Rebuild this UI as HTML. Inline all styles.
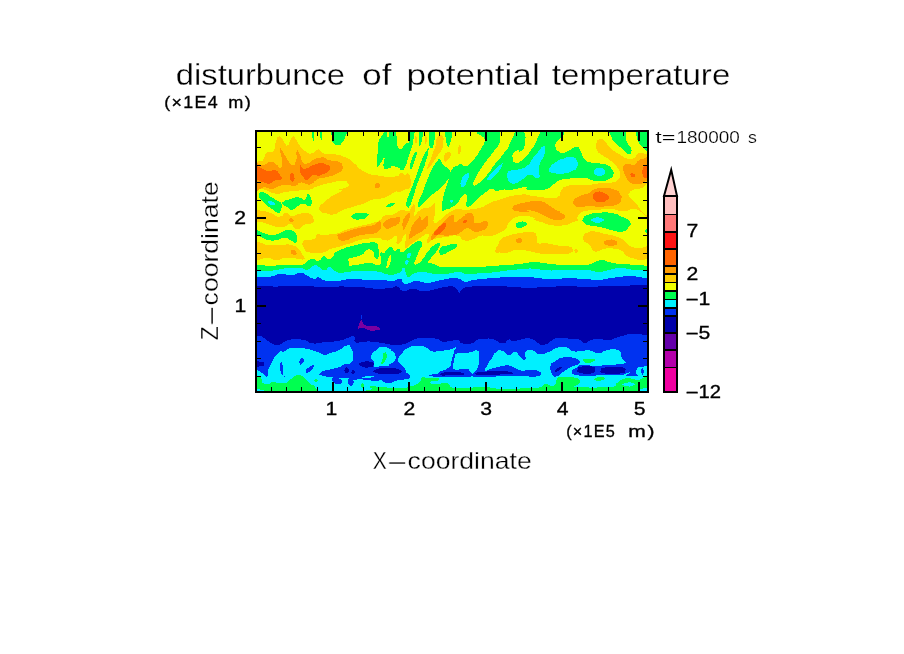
<!DOCTYPE html>
<html lang="en">
<head>
<meta charset="utf-8">
<title>disturbunce of potential temperature</title>
<style>
html,body{margin:0;padding:0;background:#fff;}
body{width:904px;height:654px;overflow:hidden;position:relative;}
svg{position:absolute;left:0;top:0;display:block;}
text{font-family:"Liberation Sans",sans-serif;fill:#000;}
.thin{stroke:#fff;stroke-width:0.3px;paint-order:fill stroke;}
.thin2{stroke:#fff;stroke-width:0.2px;paint-order:fill stroke;}
.bold{stroke:#000;stroke-width:0.32px;}
</style>
</head>
<body>
<svg width="904" height="654" viewBox="0 0 904 654">
<defs><clipPath id="pc"><rect x="256" y="131" width="392" height="261"/></clipPath></defs>
<rect x="0" y="0" width="904" height="654" fill="#fff"/>
<g clip-path="url(#pc)" shape-rendering="crispEdges">
<rect x="256" y="131" width="392" height="261" fill="#f0ff00"/>
<path fill="#ffcd00" d="M250 162C253.1 152.9 253.6 162.2 258 161.5C262.4 160.8 260.4 162.8 263.2 159.8C266 156.8 263.2 155.4 266.5 152.5C269.8 149.6 270.1 154.7 273.2 151.2C276.3 147.7 274 146.8 275.8 141.9C277.6 137 276.7 138.1 278.5 136.6C280.3 135.1 278.9 134.9 281.1 137.3C283.3 139.7 282.9 141.3 285.1 143.9C287.3 146.5 286 146.3 287.8 145.2C289.6 144.1 288.6 143.5 290.4 140.6C292.2 137.7 291.3 137.1 293.1 136.6C294.9 136.1 293.4 136.1 295.7 139.2C298 142.3 296.5 141.7 300 145.9C303.5 150.1 302 149.2 306.1 151.7C310.2 154.1 308.2 154 312.3 153.2C316.4 152.5 314.9 149.4 318.5 149.4C322.1 149.4 318.5 151.7 323.1 153.2C327.8 154.8 325.2 152.7 332.4 154C339.7 155.3 337.6 154 344.8 157.1C352.1 160.2 347.9 158.7 354.1 163.3C360.3 167.9 355.1 166.9 363.4 171C371.7 175.2 368.4 173.9 378.9 175.7C389.4 177.5 387.8 177.2 395 176.5C402.2 175.7 397.1 173.9 400.5 173.4C403.9 172.8 402.6 174.9 405.1 174.9C407.7 174.9 406.4 171.8 408.2 173.4C410 174.9 410 174.9 410.6 179.6C411.1 184.2 411.6 183.9 409.8 187.3C408 190.7 408.7 188.1 405.1 189.6C401.5 191.2 402.3 191.2 398.9 191.9C395.6 192.7 399.6 190.1 395 191.9C390.4 193.8 392.5 194.8 385.1 197.4C377.7 199.9 379.9 197.6 372.7 199.7C365.5 201.8 370.6 201 363.4 203.6C356.2 206.1 358.2 205.1 351 207.4C343.8 209.8 347.4 208.2 341.7 210.5C336 212.9 338.6 213.4 334 214.4C329.3 215.4 332.2 214.7 327.8 213.6C323.4 212.6 323.4 213.9 320.8 211.3C318.2 208.7 318.8 209 320 205.9C321.3 202.8 320.6 205.4 324.7 202C328.8 198.7 326.8 199.4 332.4 195.8C338.1 192.2 339.7 193.2 341.7 191.2C343.8 189.1 337.1 190.9 338.6 189.6C340.2 188.3 343.3 189.4 346.4 187.3C349.5 185.2 349.5 185.5 347.9 183.4C346.4 181.4 348.4 181.1 341.7 181.1C335 181.1 336 181.6 327.8 183.4C319.5 185.2 323.1 184.5 316.9 186.5C310.8 188.6 314.9 188.3 309.2 189.6C303.5 190.9 307.7 189.6 299.9 190.4C292.2 191.2 294.2 190.9 286 191.9C277.7 193 282.4 194.3 275.1 193.5C267.9 192.7 271 191.2 264.3 189.6C257.6 188.1 260.2 189.1 255 188.8C249.8 188.6 250.5 197.8 248.8 188.8C247.1 179.9 246.9 171.1 250 162Z"/>
<path fill="#ffcd00" d="M255 212.1C258.1 208.7 258.6 210.8 264.3 211.3C270 211.8 266.9 211.8 272 213.7C277.2 215.5 275.1 217 279.8 216.7C284.4 216.5 281.8 213.1 286 212.9C290.1 212.6 287.5 215.7 292.2 216C296.8 216.2 294.2 214.4 299.9 213.7C305.6 212.9 304.8 212.1 309.2 213.7C313.6 215.2 312 215.2 313.1 218.3C314.1 221.4 315.1 220.9 312.3 222.9C309.5 225 309.7 222.4 304.6 224.5C299.4 226.6 301.5 229.4 296.8 229.1C292.2 228.9 294.7 224.5 290.6 223.7C286.5 222.9 289.1 225.8 284.4 226.8C279.8 227.8 281.8 227.6 276.7 226.8C271.5 226 274.1 226 268.9 224.5C263.8 222.9 265.8 223.2 261.2 222.2C256.5 221.1 257.1 224.7 255 221.4C252.9 218 251.9 215.5 255 212.1Z"/>
<path fill="#ffcd00" d="M255 243.8C260.2 239.5 261.2 245.1 270.5 245.4C279.8 245.7 275.6 244.6 282.9 244.6C290.1 244.6 287 243.8 292.2 245.4C297.3 246.9 294.7 245.9 298.4 249.3C302 252.6 301.2 252.1 303 255.5C304.8 258.8 305.8 258.3 303.8 259.3C301.7 260.4 302.8 259.1 296.8 258.6C290.9 258 292.7 257.3 286 257.8C279.3 258.3 282.9 260.1 276.7 260.1C270.5 260.1 274.6 258.3 267.4 257.8C260.2 257.3 259.1 263.2 255 258.6C250.9 253.9 249.8 248.2 255 243.8Z"/>
<path fill="#ffcd00" d="M303 241.5C304.6 238.4 305.1 241 309.2 240C313.3 238.9 312.8 240.2 315.4 238.4C318 236.6 313.8 235.6 316.9 234.6C320 233.5 319.5 235.6 324.7 235.3C329.9 235.1 327.8 234.6 332.4 233.8C337.1 233 333.5 234.6 338.6 233C343.8 231.5 340.7 231.5 347.9 229.1C355.1 226.8 352.1 228.1 360.3 226C368.6 224 366 225 372.7 222.9C379.4 220.9 376.8 222.2 380.4 219.8C384.1 217.5 380.4 217.5 383.5 216C386.6 214.4 385.9 216 389.7 215.2C393.6 214.4 391.8 215.1 395 213.7C398.2 212.2 396.6 212.2 399.3 210.9C401.9 209.6 400.2 209.6 403 209.8C405.9 210 405.1 211.9 407.8 211.4C410.5 210.9 409.1 210.5 411 208.2C413 205.9 412.5 204.1 413.7 204.4C415 204.8 414.6 205.5 414.8 209.3C415 213 413 215 414.2 215.7C415.5 216.4 415.7 213.7 418.5 211.4C421.4 209.1 419.6 210 422.8 208.7C426 207.5 424.9 208.9 428.2 207.7C431.4 206.4 430.3 206.4 432.4 205C434.6 203.6 433.7 201.2 434.6 203.4C435.5 205.5 435.3 205.2 435.1 211.4C434.9 217.6 432.4 219.3 434 222.1C435.6 225 435.8 222.5 439.9 220C444 217.5 442.1 217.6 446.3 214.6C450.6 211.6 448.8 212.8 452.8 210.9C456.7 208.9 454.2 208.9 458.1 208.7C462 208.5 460.6 210 464.5 210.3C468.5 210.7 467.6 210.2 470 209.8C472.4 209.4 468.1 209.8 471.7 209C475.4 208.2 474.8 209.5 481 207.5C487.2 205.4 484.1 205.4 490.3 202.8C496.5 200.2 493.4 201.8 499.6 199.7C505.8 197.6 502.7 198.2 508.9 196.6C515.1 195.1 512.8 195.8 518.2 195.1C523.6 194.3 521.9 194.3 525 194.3C528.1 194.3 523 194.3 527.4 195.1C531.8 195.8 530.5 195.6 538.2 196.6C546 197.6 543.9 198.2 550.6 198.2C557.3 198.2 554.7 199.2 558.4 196.6C562 194 558.9 193.8 561.5 190.4C564 187.1 560.9 188.4 566.1 186.5C571.3 184.7 569.7 185.5 576.9 185C584.2 184.5 580.6 185.5 587.8 185C595 184.5 590.9 184.2 598.6 183.4C606.4 182.7 604.6 183.9 611 182.7C617.5 181.4 614.9 182.1 618 179.6C621.1 177 620.6 179 620.3 174.9C620.1 170.8 620.3 171.8 617.2 167.2C614.1 162.5 616.2 165.1 611 161C605.9 156.8 606.4 158.4 601.7 154.8C597.1 151.2 598.9 153.7 597.1 150.1C595.3 146.5 595.5 147.6 596.3 143.9C597.1 140.3 596.8 140.3 599.4 139.3C602 138.3 600.2 137.7 604 140.8C607.9 143.9 605.6 143.9 611 148.6C616.4 153.2 614.6 151.4 620.3 154.8C626 158.1 623.4 157.6 628.1 158.7C632.7 159.7 630.6 159.7 634.2 157.9C637.9 156.1 634.8 154.5 638.9 153.2C643 151.9 642.5 153.5 646.6 154C650.8 154.5 649.7 133.9 651.3 154.8C652.8 175.7 652.8 196.1 651.3 216.7C649.7 237.4 650.8 218.8 646.6 216.7C642.5 214.7 643.5 213.1 638.9 210.5C634.2 207.9 637.9 208.7 632.7 209C627.5 209.2 630.6 211.3 623.4 211.3C616.2 211.3 619.3 209.5 611 209C602.8 208.5 606.4 209.2 598.6 209.8C590.9 210.3 594 209.2 587.8 210.5C581.6 211.8 584.2 210.5 580 213.6C575.9 216.7 579.5 216.7 575.4 219.8C571.3 222.9 573.3 221.4 567.7 222.9C562 224.5 564.6 224.5 558.4 224.5C552.2 224.5 555.8 224.5 549.1 222.9C542.4 221.4 544.4 221.9 538.2 219.8C532 217.8 535.6 218 530.5 216.7C525.3 215.4 527.9 215.7 522.7 216C517.6 216.2 518.6 216.4 515 217.5C511.4 218.6 514.5 216.9 512 219.3C509.5 221.8 509.8 221.5 507.6 224.9C505.4 228.2 507.9 226.7 505.4 229.3C502.8 231.9 503.9 230.6 499.8 232.6C495.8 234.6 497.6 234.3 493.2 235.4C488.8 236.5 491 235.7 486.5 235.9C482.1 236.1 484.3 234.8 479.9 235.9C475.5 237 478.4 237.8 473.3 239.2C468.1 240.7 468.8 241.5 464.4 240.4C460 239.2 461.7 237.4 460 235.9C458.3 234.5 461.6 236.2 459.2 236C456.8 235.9 457.1 235.1 452.8 235.5C448.5 235.8 450.3 236.4 446.3 237.1C442.4 237.8 444.6 237.1 441 237.6C437.4 238.2 438.9 237.8 435.6 238.7C432.4 239.6 433.9 238.7 431.4 240.3C428.9 241.9 429.6 243.5 428.2 243.5C426.7 243.5 426.9 242.8 427.1 240.3C427.3 237.8 428.7 238.2 428.7 236C428.7 233.9 429 233.9 427.1 233.9C425.1 233.9 425.7 234.2 422.8 236C420 237.8 421.7 237.1 418.5 239.2C415.3 241.4 416.4 240.3 413.2 242.4C410 244.6 411.4 243.7 408.9 245.6C406.4 247.6 406.9 249 405.7 248.3C404.4 247.6 405 247.3 405.1 243.5C405.3 239.8 406 240.3 406.2 237.1C406.4 233.9 406.8 233.9 405.7 233.9C404.6 233.9 404.8 234.2 403 237.1C401.2 239.9 402.5 240.3 400.3 242.4C398.2 244.6 397.7 244.9 396.6 243.5C395.5 242.1 397.7 240.7 397.1 238.2C396.6 235.7 397.1 235.7 395 236C392.8 236.4 393.9 237.8 390.7 239.2C387.5 240.7 388.9 240.7 385.4 240.3C381.8 239.9 382.2 239 380 238.2C377.8 237.3 382.4 237.6 378.9 237.7C375.4 237.7 375.8 237.7 369.6 238.4C363.4 239.2 366.5 238.4 360.3 240C354.1 241.5 356.7 241.3 351 243.1C345.3 244.9 348.4 243.8 343.3 245.4C338.1 246.9 340.2 246.4 335.5 247.7C330.9 249 332.4 248 329.3 249.3C326.2 250.6 330.4 250.3 326.2 251.6C322.1 252.9 322.6 252.9 316.9 253.1C311.3 253.4 313.3 253.7 309.2 252.4C305.1 251.1 306.6 252.9 304.6 249.3C302.5 245.7 301.5 244.6 303 241.5Z"/>
<path fill="#ffcd00" d="M495.4 251.4C495 248.5 496.9 247.7 498.7 243.7C500.6 239.6 498 241.8 500.9 239.2C503.9 236.7 502.9 237.7 507.6 235.9C512.2 234.2 509.4 235.1 515 233.9C520.6 232.8 518.1 232.9 524.3 232.4C530.5 231.9 529.5 230.8 533.6 232.4C537.7 233.9 535.1 233.4 536.7 237C538.2 240.6 535.1 241.2 538.2 243.2C541.3 245.3 539.3 242.5 546 243.2C552.7 244 551.1 244.5 558.4 245.6C565.6 246.6 563 245.3 567.7 246.3C572.3 247.4 571.3 246.6 572.3 248.7C573.3 250.7 574.4 250.7 570.8 252.5C567.1 254.3 569.7 253.6 561.5 254.1C553.2 254.6 554.7 254.6 546 254.1C537.2 253.6 542.4 253.8 535.1 252.5C527.9 251.2 531 251 524.3 250.2C517.6 249.4 520.6 249.4 515 250.2C509.4 251 512.6 251.7 507.6 252.5C502.5 253.3 503.9 252.9 499.8 252.5C495.8 252.2 495.8 254.4 495.4 251.4Z"/>
<path fill="#ffcd00" d="M574.6 249.4C575.1 248.3 575.9 248.2 576.9 249.1C578 250 578.2 251.1 577.7 252.2C577.2 253.3 576.4 253.5 575.4 252.5C574.4 251.6 574.1 250.6 574.6 249.4Z"/>
<path fill="#ffcd00" d="M538.2 218.5C548 216.9 563 216.9 573.8 218.5C584.7 220 574.4 220.8 570.8 223.1C567.1 225.4 568.7 224.6 563 225.4C557.3 226.2 559.9 226.2 553.7 225.4C547.5 224.6 549.6 225.4 544.4 223.1C539.3 220.8 528.4 220 538.2 218.5Z"/>
<path fill="#ffcd00" d="M583.1 237C584.2 233.9 583.7 234.2 587.8 232.4C591.9 230.6 589.9 231.1 595.5 231.6C601.2 232.1 598.1 232.4 604.8 233.9C611.5 235.5 609.5 234.2 615.7 236.3C621.9 238.3 618.8 237 623.4 240.1C628.1 243.2 624.4 243 629.6 245.6C634.8 248.1 633.2 247.6 638.9 247.9C644.6 248.1 642.5 246.8 646.6 246.3C650.8 245.8 649.7 242.2 651.3 246.3C652.8 250.5 652.8 254.6 651.3 258.7C649.7 262.8 649.7 258.2 646.6 258.7C643.5 259.2 646.1 260.3 642 260.3C637.9 260.3 639.4 260.3 634.2 258.7C629.1 257.2 630.6 258.2 626.5 255.6C622.4 253 626 253.3 621.9 251C617.7 248.7 619.8 249.4 614.1 248.7C608.4 247.9 610 247.9 604.8 248.7C599.7 249.4 602.2 250.2 598.6 251C595 251.7 597.1 253 594 251C590.9 248.9 592.4 247.9 589.3 244.8C586.2 241.7 586.8 244.3 584.7 241.7C582.6 239.1 582.1 240.1 583.1 237Z"/>
<path fill="#ffcd00" d="M437.6 136.6C439.8 133.9 440.7 133.9 442.6 136.1C444.4 138.3 443.5 138.7 443.1 143.3C442.8 147.9 443.5 145.5 441.5 149.9C439.4 154.3 440 152.1 437 156.5C434.1 161 435.6 159.1 432.6 163.2C429.7 167.2 429.8 167.6 428.2 168.7C426.5 169.8 426.9 169.5 427.6 166.5C428.4 163.6 428.6 164.7 430.4 159.9C432.2 155.1 431.3 157.3 433.2 152.1C435 147 434.5 149.5 435.9 144.4C437.4 139.2 435.4 139.4 437.6 136.6Z"/>
<path fill="#ffcd00" d="M444.6 154.8C445.9 151.9 446.4 152.5 448.5 152.5C450.6 152.5 451.1 152.2 450.8 154.8C450.6 157.4 449.8 158.1 447.7 160.2C445.7 162.3 445.7 162.8 444.6 161C443.6 159.2 443.3 157.6 444.6 154.8Z"/>
<path fill="#ffcd00" d="M458.6 146.3C459.5 144.5 460.4 144.7 460.9 147C461.4 149.4 461 151.4 460.1 153.2C459.2 155 458.6 154.8 458.1 152.5C457.6 150.1 457.6 148.1 458.6 146.3Z"/>
<path fill="#ffcd00" d="M415.2 137C415.7 135.4 416.3 135.9 416.7 137.7C417.2 139.6 417.1 140.8 416.6 142.4C416.1 143.9 415.8 144.2 415.4 142.4C414.9 140.6 414.7 138.5 415.2 137Z"/>
<path fill="#ffcd00" d="M425.3 136.2C425.7 134.4 426.1 134.6 426.5 137C426.9 139.3 426.8 141.4 426.3 143.2C425.9 145 425.5 144.7 425.1 142.4C424.7 140.1 424.8 138 425.3 136.2Z"/>
<path fill="#f0ff00" d="M628.8 193.5C630.4 191.2 630.4 191.3 634.2 189.6C638.1 187.9 634.8 189.3 640.4 188.4C646.1 187.5 647.7 177.7 651.3 186.9C654.9 196 652.8 206.5 651.3 216C649.7 225.4 649.7 216.7 646.6 215.2C643.5 213.7 645.1 214.7 642 211.3C638.9 208 640.4 209 637.3 205.1C634.2 201.3 635.3 202.6 632.7 199.7C630.1 196.9 630.9 198.7 629.6 196.6C628.3 194.6 627.3 195.8 628.8 193.5Z"/>
<path fill="#ff9b00" d="M255 162.5C255.8 154.5 254.2 162.5 257.3 163.3C260.4 164.1 259.9 165.4 264.3 164.8C268.7 164.3 266.4 161.7 270.5 161.7C274.6 161.7 273.3 162.8 276.7 164.8C280 166.9 278.7 169.2 280.6 167.9C282.4 166.7 282.4 167.4 282.1 161C281.8 154.5 279.3 151.2 279.8 148.6C280.3 146 280.8 149.1 283.7 153.2C286.5 157.4 285.5 157.1 288.3 161C291.1 164.8 289.6 164.8 292.2 164.8C294.7 164.8 294.5 165.6 296 161C297.6 156.3 295.5 153 296.8 150.9C298.1 148.8 297.8 150.9 299.9 154.8C302 158.7 300.4 159.7 303 162.5C305.6 165.4 304 164.3 307.7 163.3C311.3 162.3 309.7 161.2 313.8 159.4C318 157.6 316.9 158.7 320 157.9C323.1 157.1 320 156.3 323.1 157.1C326.2 157.9 324.2 158.7 329.3 160.2C334.5 161.7 334.2 159.9 338.6 161.7C343 163.6 341.5 162.8 342.5 165.6C343.5 168.5 344 167.4 341.7 170.3C339.4 173.1 339.7 172.1 335.5 174.1C331.4 176.2 333.5 175.2 329.3 176.5C325.2 177.8 327.3 177 323.1 178C319 179 321.1 177.5 316.9 179.6C312.8 181.6 314.9 182.9 310.8 184.2C306.6 185.5 308.2 183.9 304.6 183.4C300.9 182.9 303 181.9 299.9 182.7C296.8 183.4 299.9 185 295.3 185.8C290.6 186.5 291.7 184.7 286 185C280.3 185.2 282.9 185.2 278.2 186.5C273.6 187.8 276.7 188.6 272 188.8C267.4 189.1 270 187.8 264.3 187.3C258.6 186.8 258.1 195.6 255 187.3C251.9 179 254.2 170.5 255 162.5Z"/>
<path fill="#ff9b00" d="M379.8 185.8C379.8 186.8 379.9 186.5 379.4 187.3C378.8 188.1 379 187.9 378.1 188.2C377.2 188.5 377.5 188.5 376.6 188.2C375.6 187.9 375.9 188.1 375.3 187.3C374.7 186.5 374.8 186.8 374.8 185.8C374.8 184.7 374.7 185 375.3 184.2C375.9 183.4 375.6 183.6 376.6 183.3C377.5 183 377.2 183 378.1 183.3C379 183.6 378.8 183.4 379.4 184.2C379.9 185 379.8 184.7 379.8 185.8Z"/>
<path fill="#ff9b00" d="M293.2 221.8C292.8 222.4 293 222.3 292.2 222.3C291.4 222.4 291.7 222.5 290.9 222.1C290 221.7 290.3 221.9 289.7 221.1C289.2 220.4 289.3 220.6 289.2 219.9C289.2 219.1 289.1 219.3 289.6 218.7C290 218.2 289.8 218.3 290.6 218.2C291.4 218.1 291.1 218.1 291.9 218.5C292.8 218.9 292.5 218.7 293.1 219.5C293.6 220.2 293.5 219.9 293.6 220.7C293.6 221.5 293.7 221.3 293.2 221.8Z"/>
<path fill="#ff9b00" d="M296.3 254C295.9 254.8 296.1 254.6 295.2 254.9C294.2 255.1 294.6 255.1 293.5 254.8C292.4 254.5 292.7 254.7 291.9 253.9C291 253.1 291.2 253.4 291 252.4C290.7 251.5 290.7 251.8 291.1 251C291.5 250.3 291.3 250.4 292.3 250.2C293.2 249.9 292.9 249.9 294 250.2C295.1 250.6 294.7 250.4 295.6 251.2C296.4 252 296.2 251.7 296.5 252.6C296.7 253.6 296.7 253.3 296.3 254Z"/>
<path fill="#ff9b00" d="M337.9 234.7C340.2 233.2 339.4 234.2 344.8 232.4C350.2 230.6 347.9 231.1 354.1 229.3C360.3 227.5 357.2 228.3 363.4 227C369.6 225.7 367.5 227.2 372.7 225.4C377.9 223.6 376.1 221.8 378.9 221.5C381.7 221.3 381.2 221.5 381.2 224.6C381.2 227.7 381.7 227.7 378.9 230.8C376.1 233.9 377.9 232.6 372.7 233.9C367.5 235.2 369.6 233.7 363.4 234.7C357.2 235.7 359.8 235.2 354.1 237C348.4 238.8 351 239.1 346.4 240.1C341.7 241.2 343 241.2 340.2 240.1C337.3 239.1 338.6 238.8 337.9 237C337.1 235.2 335.5 236.3 337.9 234.7Z"/>
<path fill="#ff9b00" d="M383.2 223.7C383.7 221.3 383.9 222.3 386.4 220.5C388.9 218.7 387.8 219.3 390.7 218.4C393.6 217.5 392.1 218.2 395 217.8C397.8 217.5 397.7 216.2 399.3 217.3C400.9 218.4 400.5 218.5 399.8 221C399.1 223.5 399.4 223 397.1 224.8C394.8 226.6 395.7 225.1 392.8 226.4C390 227.6 391.2 228.1 388.6 228.5C385.9 229 386.6 229.3 384.8 227.7C383 226.1 382.7 226.1 383.2 223.7Z"/>
<path fill="#ff9b00" d="M402.5 226.4C402.3 223.5 401.9 224.4 403 221C404.1 217.6 403.7 218.9 405.7 216.2C407.6 213.5 407.5 213.2 408.9 213C410.3 212.8 410.1 213 410 215.7C409.8 218.4 409.8 217.5 408.4 221C406.9 224.6 407.3 223.5 405.7 226.4C404.1 229.2 404.6 229.6 403.5 229.6C402.5 229.6 402.7 229.2 402.5 226.4Z"/>
<path fill="#ff9b00" d="M408.9 237.1C409.3 234.2 409.1 234.9 410.5 230.7C411.9 226.4 410.9 228.2 413.2 224.2C415.5 220.3 415.1 221.6 417.5 218.9C419.8 216.2 418.9 215.9 420.1 216.2C421.4 216.6 419.6 219.4 421.2 220C422.8 220.5 422.8 219.1 424.9 217.8C427.1 216.6 426.6 214.8 427.6 216.2C428.7 217.6 428.3 218.7 428.2 222.1C428 225.5 428.9 223.5 427.1 226.4C425.3 229.2 426 228.2 422.8 230.7C419.6 233.2 421 231.7 417.5 233.9C413.9 236 414.8 235.3 412.1 237.1C409.4 238.9 410.5 239.2 409.4 239.2C408.4 239.2 408.5 239.9 408.9 237.1Z"/>
<path fill="#ff9b00" d="M431.4 237.1C431.7 234.8 431.4 236 433.5 232.8C435.6 229.6 434.6 231 437.8 227.5C441 223.9 439.6 225.5 443.1 222.1C446.7 218.7 445.3 219.8 448.5 217.3C451.7 214.8 451 214.4 452.8 214.6C454.6 214.8 453.1 215.3 453.8 217.8C454.6 220.3 453.1 221.6 454.9 222.1C456.7 222.6 456 221.6 459.2 219.4C462.4 217.3 462.4 217.4 464.5 215.7C466.7 214 463.4 215.2 465.5 214.4C467.7 213.5 468.3 212.3 471.1 213.3C473.8 214.2 472.7 214 473.8 217.1C474.9 220.3 472.4 220.8 474.4 222.7C476.4 224.5 475.9 223.2 479.9 222.7C484 222.1 484.2 219.5 486.5 221C488.9 222.5 488.6 223.9 487.1 227.1C485.6 230.2 486.4 228.9 482.1 230.4C477.9 231.9 478.8 232.2 474.4 231.5C470 230.8 471.8 229.2 468.8 228.2C465.9 227.2 468.1 227.3 465.6 228.5C463.1 229.7 464.2 229.8 461.3 231.7C458.5 233.7 460.6 233.3 457.1 234.4C453.5 235.5 454.2 234.4 450.6 234.9C447.1 235.5 449.9 236 446.3 236C442.8 236 443.5 234.6 439.9 234.9C436.4 235.3 438.1 235.5 435.6 237.1C433.2 238.7 433.9 239.8 432.4 239.8C431 239.8 431 239.4 431.4 237.1Z"/>
<path fill="#ff9b00" d="M513.1 207.2C514.2 205.1 513.1 206.1 517.5 204.4C521.9 202.7 520.5 203.3 526.4 202.2C532.3 201.1 530.1 201.3 535.2 201.1C540.4 200.9 537.4 200.3 541.9 201.6C546.3 202.9 544.1 202.4 548.5 205C552.9 207.5 551.3 207.2 555.1 209.4C559 211.6 558.4 210.4 560 211.6C561.6 212.8 558.4 211.7 559.9 212.9C561.4 214 563.5 213.1 564.6 215.2C565.6 217.2 566.1 217.5 563 219C559.9 220.6 560.9 220.6 555.3 219.8C549.6 219 552.2 219.3 546 216.7C539.8 214.1 542.9 214.1 536.7 212.1C530.5 210 530.1 210.5 527.4 210.5C524.7 210.6 531.1 211.8 528.6 212.1C526 212.5 524.5 212.1 519.7 211.6C514.9 211 516.4 212 514.2 210.5C512 209 512 209.2 513.1 207.2Z"/>
<path fill="#ff9b00" d="M573.8 200.5C575.7 197.4 575.4 198.1 580 195.8C584.7 193.5 583.1 195.6 587.8 193.5C592.4 191.4 588.8 191.4 594 189.6C599.1 187.8 596.6 188.1 603.3 188.1C610 188.1 608.4 187.6 614.1 189.6C619.8 191.7 618 190.9 620.3 194.3C622.6 197.6 622.1 196.3 621.1 199.7C620.1 203 621.6 202.3 617.2 204.3C612.8 206.4 614.1 205.1 607.9 205.9C601.7 206.7 604.8 206.7 598.6 206.7C592.4 206.7 595.5 205.6 589.3 205.9C583.1 206.1 584.9 207.7 580 207.4C575.1 207.2 576.7 207.4 574.6 205.1C572.6 202.8 572 203.6 573.8 200.5Z"/>
<path fill="#ff9b00" d="M623.4 166.4C625 164.3 624.4 164.6 628.1 164.1C631.7 163.6 630.6 166.1 634.2 164.8C637.9 163.6 635.8 162.3 638.9 160.2C642 158.1 639.4 159.2 643.5 158.7C647.7 158.1 648.7 150.9 651.3 158.7C653.9 166.4 652.8 174.4 651.3 181.9C649.7 189.4 649.7 180.6 646.6 181.1C643.5 181.6 645.6 182.4 642 183.4C638.4 184.5 639.9 184.7 635.8 184.2C631.7 183.7 633 184.5 629.6 181.9C626.2 179.3 627.8 180.3 625.7 176.5C623.7 172.6 624.2 173.6 623.4 170.3C622.6 166.9 621.9 168.5 623.4 166.4Z"/>
<path fill="#ff9b00" d="M521.6 239.1C521.9 239.9 521.9 239.6 521.6 240.5C521.3 241.4 521.5 241.1 520.6 241.9C519.7 242.6 520 242.4 518.9 242.6C517.8 242.9 518.1 242.9 517.2 242.6C516.3 242.2 516.5 242.4 516.1 241.6C515.8 240.8 515.8 241.1 516.1 240.2C516.4 239.3 516.2 239.6 517.1 238.8C518 238.1 517.7 238.3 518.8 238.1C519.9 237.8 519.6 237.8 520.5 238.2C521.4 238.5 521.2 238.3 521.6 239.1Z"/>
<path fill="#ff9b00" d="M604 242.5C604 240.6 604.6 240.9 607.9 240.1C611.3 239.4 611 239.1 614.1 240.1C617.2 241.2 617.2 241.4 617.2 243.2C617.2 245 617.2 244.8 614.1 245.6C611 246.3 611.3 246.6 607.9 245.6C604.6 244.5 604 244.3 604 242.5Z"/>
<path fill="#ff9b00" d="M522.1 239.5C522.4 240.4 522.4 240.1 522 241C521.7 241.9 521.9 241.7 521 242.3C520.1 242.9 520.5 242.8 519.4 242.9C518.3 243 518.6 243 517.8 242.5C516.9 242 517.1 242.3 516.8 241.4C516.5 240.5 516.5 240.8 516.8 239.9C517.2 239 516.9 239.2 517.8 238.6C518.7 238 518.4 238.1 519.5 238C520.5 237.9 520.2 237.8 521.1 238.3C521.9 238.8 521.7 238.6 522.1 239.5Z"/>
<path fill="#ff6400" d="M255 166.4C255.8 162 254.7 165.6 257.3 166.4C259.9 167.2 258.9 167.2 262.7 168.7C266.6 170.3 264.8 170.5 268.9 171C273.1 171.6 271.5 169 275.1 170.3C278.7 171.6 277.7 171.8 279.8 174.9C281.8 178 282.9 177.8 281.3 179.6C279.8 181.4 278.7 179 275.1 180.3C271.5 181.6 274.1 182.7 270.5 183.4C266.9 184.2 268.7 183.9 264.3 182.7C259.9 181.4 260.4 180.6 257.3 179.6C254.2 178.5 255.8 183.9 255 179.6C254.2 175.2 254.2 170.8 255 166.4Z"/>
<path fill="#ff6400" d="M294.4 176.9C294.7 178.6 294.7 178.1 294.4 179.5C294 181 294.2 180.6 293.5 181.3C292.7 181.9 293 181.9 292 181.5C291.1 181.1 291.4 181.4 290.7 180.1C290 178.7 290.1 179.3 289.9 177.6C289.7 175.8 289.6 176.4 290 174.9C290.3 173.5 290.1 173.8 290.9 173.2C291.7 172.5 291.4 172.6 292.3 173C293.2 173.4 292.9 173.1 293.7 174.4C294.4 175.7 294.2 175.2 294.4 176.9Z"/>
<path fill="#ff6400" d="M300.7 164.8C301.7 164.1 300.7 167.7 303 168.7C305.3 169.7 304 169.2 307.7 167.9C311.3 166.7 309.2 166.4 313.8 164.8C318.5 163.3 317.5 163.3 321.6 163.3C325.7 163.3 323.4 163.6 326.2 164.8C329.1 166.1 329.6 164.8 330.1 167.2C330.6 169.5 330.1 169.5 327.8 171.8C325.5 174.1 326.2 172.8 323.1 174.1C320 175.4 321.6 175.4 318.5 175.7C315.4 175.9 316.9 174.1 313.8 174.9C310.8 175.7 311.5 176.2 309.2 178C306.9 179.8 308.9 180.8 306.9 180.3C304.8 179.8 305.3 179.6 303 176.5C300.7 173.4 300.7 174.9 299.9 171C299.1 167.2 299.7 165.6 300.7 164.8Z"/>
<path fill="#ff6400" d="M434 233.9C434.4 232.1 434.4 232.4 436.7 229.6C439 226.7 438.1 227.6 441 225.3C443.9 223 443.7 222.3 445.3 222.6C446.9 223 446.5 223.7 445.8 226.4C445.1 229.1 445.5 228.2 443.1 230.7C440.8 233.2 441.4 232.4 438.9 233.9C436.4 235.3 437.3 234.9 435.6 234.9C434 234.9 433.7 235.7 434 233.9Z"/>
<path fill="#ff6400" d="M462.9 221C463.7 220.1 464 220 465.6 220C467.2 220 467.8 220.1 467.8 221C467.8 221.9 467 222.1 465.6 222.6C464.2 223.2 464.4 223.2 463.5 222.6C462.6 222.1 462.2 221.9 462.9 221Z"/>
<path fill="#ff6400" d="M593.2 195C594 192.2 593.7 192.7 597.1 191.9C600.4 191.2 599.4 191.2 603.3 192.7C607.1 194.3 607.7 194 608.7 196.6C609.7 199.2 609.2 198.7 606.4 200.5C603.5 202.3 604 202 600.2 202C596.3 202 597.1 202.8 594.8 200.5C592.4 198.1 592.4 197.9 593.2 195Z"/>
<path fill="#ff6400" d="M642.8 168.7C643.8 165.1 643.8 166.9 646.6 165.6C649.5 164.3 649.7 160.5 651.3 164.8C652.8 169.2 652.8 174.4 651.3 178.8C649.7 183.2 649.2 178.8 646.6 178C644.1 177.2 644.8 179.6 643.5 176.5C642.2 173.4 641.7 172.3 642.8 168.7Z"/>
<path fill="#ff6400" d="M631.2 173.4C632.4 172.8 634 173.6 635 174.9C636.1 176.2 635.5 176.7 634.2 177.2C633 177.8 632.2 177.8 631.2 176.5C630.1 175.2 629.9 173.9 631.2 173.4Z"/>
<path fill="#00ff50" d="M259.6 192.7C261.5 191.7 260.7 191.4 264.3 192.7C267.9 194 266.4 194 270.5 196.6C274.6 199.2 273.1 198.1 276.7 200.5C280.3 202.8 280 200.2 281.3 203.6C282.6 206.9 281.6 207.4 280.6 210.5C279.5 213.6 281.1 213.4 278.2 212.9C275.4 212.3 276.2 211.8 272 209C267.9 206.1 269.5 207.4 265.8 204.3C262.2 201.2 263.5 202.5 261.2 199.7C258.9 196.9 259.4 198.1 258.9 195.8C258.4 193.5 257.8 193.8 259.6 192.7Z"/>
<path fill="#00ff50" d="M282.9 202C285.5 200.2 285.5 200.5 290.6 198.9C295.8 197.4 293.7 197.1 298.4 197.4C303 197.6 301.5 200.7 304.6 199.7C307.7 198.7 305.6 194.8 307.7 194.3C309.7 193.8 309.5 194.8 310.8 198.1C312 201.5 312.6 201.8 311.5 204.3C310.5 206.9 310.5 206.1 307.7 205.9C304.8 205.6 306.6 203.3 303 203.6C299.4 203.8 300.4 204.6 296.8 206.7C293.2 208.7 295.3 209.5 292.2 209.8C289.1 210 290.6 209.2 287.5 207.4C284.4 205.6 284.4 206.1 282.9 204.3C281.3 202.5 280.3 203.8 282.9 202Z"/>
<path fill="#00ff50" d="M312 130C312.4 127.2 313.2 126.9 313.8 130C314.5 133.1 314.4 136.5 314 139.3C313.6 142.1 313.3 141.6 312.6 138.5C311.9 135.4 311.6 132.8 312 130Z"/>
<path fill="#00ff50" d="M319.7 130C320.1 127.4 320.9 126.9 321.6 130C322.3 133.1 322.2 136.7 321.7 139.3C321.3 141.9 321 140.8 320.4 137.7C319.7 134.6 319.3 132.6 319.7 130Z"/>
<path fill="#00ff50" d="M333.2 130C337.6 126.9 341.7 127.4 345.6 130C349.5 132.6 346.1 133.4 344.8 137.7C343.5 142.1 343.8 140.6 341.7 143.2C339.7 145.7 341.2 145.5 338.6 145.5C336 145.5 336 145.2 334 143.2C331.9 141.1 332.7 143.7 332.4 139.3C332.2 134.9 328.8 133.1 333.2 130Z"/>
<path fill="#00ff50" d="M352.6 215.2C354.6 213.1 355.4 213.4 360.3 212.9C365.2 212.3 365 212.3 367.3 213.6C369.6 214.9 369.1 214.9 367.3 216.7C365.5 218.5 366.2 218.3 361.9 219C357.5 219.8 357.2 220.3 354.1 219C351 217.8 350.5 217.2 352.6 215.2Z"/>
<path fill="#00ff50" d="M387.4 205.1C389.2 203.7 391.5 202.8 393.6 202.8C395.7 202.8 395.4 203.7 393.6 205.1C391.8 206.5 390.3 207 388.2 207C386.1 207 385.6 206.5 387.4 205.1Z"/>
<path fill="#00ff50" d="M251.9 229.3C253.7 227.7 253.2 228.8 257.3 230.1C261.5 231.4 258.9 231.6 264.3 233.2C269.7 234.7 267.9 235 273.6 234.7C279.3 234.5 276.7 233.9 281.3 232.4C286 230.8 283.4 230.3 287.5 230.1C291.7 229.8 290.6 229.3 293.7 231.6C296.8 233.9 296 233.4 296.8 237C297.6 240.6 298.1 241.4 296 242.5C294 243.5 294.5 241.7 290.6 240.1C286.7 238.6 289.1 237.8 284.4 237.8C279.8 237.8 281.8 239.4 276.7 240.1C271.5 240.9 274.1 241.2 268.9 240.1C263.8 239.1 265.1 238.6 261.2 237C257.3 235.5 260.4 236.3 257.3 235.5C254.2 234.7 253.7 236.8 251.9 234.7C250.1 232.6 250.1 230.8 251.9 229.3Z"/>
<path fill="#00ff50" d="M378.9 140.8C380.7 136.2 381.2 137.2 383.5 133.1C385.9 129 382.5 130 385.9 128.5C389.2 126.9 389.9 125.9 393.5 128.5C397.1 131 395.3 130.5 396.6 136.2C397.9 141.9 395.8 141.4 397.4 145.5C398.9 149.6 398.7 149.1 401.3 148.6C403.8 148.1 402.3 146.8 405.1 143.9C408 141.1 408 145.2 409.8 140.1C411.6 134.9 409 132.3 410.6 128.5C412.1 124.6 413.7 123.8 414.4 128.5C415.2 133.1 413.9 135.7 412.9 142.4C411.8 149.1 412.9 143.4 411.3 148.6C409.8 153.7 410.3 151.7 408.2 157.9C406.2 164.1 407.2 163 405.1 167.2C403.1 171.3 404.6 170.3 402 170.3C399.5 170.3 401 168.5 397.4 167.2C393.8 165.9 393.2 166.4 391.2 166.4C389.2 166.4 392.8 166.4 391.3 167.2C389.8 167.9 389.2 169 386.6 168.7C384.1 168.5 384.3 170 383.5 166.4C382.8 162.8 385.3 158.9 384.3 157.9C383.3 156.8 382.8 160.5 380.4 163.3C378.1 166.1 378.4 168.2 377.3 166.4C376.3 164.6 377.1 164.3 377.3 157.9C377.6 151.4 377.6 152.7 378.1 147C378.6 141.4 377.1 145.5 378.9 140.8Z"/>
<path fill="#f0ff00" d="M386.6 128.5C387.1 125.4 388.9 125.4 389.4 128.5C389.9 131.5 389.1 137.7 388.2 137.7C387.3 137.7 386.2 131.5 386.6 128.5Z"/>
<path fill="#00ff50" d="M415.5 152.1C416.4 151.9 416.8 151.2 416.6 153.8C416.4 156.4 416.2 155.6 414.9 159.9C413.6 164.1 414 163.4 412.7 166.5C411.4 169.6 412 169.3 411 169.3C410.1 169.3 409.7 169.6 409.9 166.5C410.1 163.4 410.3 163.9 411.6 159.9C412.9 155.8 412.5 156.9 413.8 154.3C415.1 151.8 414.5 152.3 415.5 152.1Z"/>
<path fill="#00ff50" d="M426.8 150.1C429.1 146.8 429.1 145.7 428.4 150.9C427.6 156.1 427.8 155.6 424.5 165.6C421.1 175.7 421.9 171.3 418.3 181.1C414.7 190.9 416.5 186.8 413.7 195C410.8 203.3 412.1 202.3 409.8 205.9C407.5 209.5 407.7 207.4 406.7 205.9C405.6 204.3 405.1 206.9 406.7 201.2C408.2 195.6 408.2 197.1 411.3 188.8C414.4 180.6 412.6 185.8 416 176.5C419.3 167.2 417.8 169.7 421.4 161C425 152.2 424.5 153.5 426.8 150.1Z"/>
<path fill="#00ff50" d="M440 159.4C442 159.7 440.2 160.7 442.3 163.3C444.4 165.9 443.6 164.6 446.2 167.2C448.8 169.7 449 167.9 450 171C451.1 174.1 450.8 172.6 449.3 176.5C447.7 180.3 449.3 178 445.4 182.7C441.5 187.3 442.8 185.8 437.7 190.4C432.5 195 434.6 192.5 429.9 196.6C425.3 200.7 427.3 199.4 423.7 202.8C420.1 206.1 420.9 206.7 419.1 206.7C417.3 206.7 417.3 207.2 418.3 202.8C419.3 198.4 419.3 200.7 422.2 193.5C425 186.3 423.7 188.8 426.8 181.1C429.9 173.4 428.4 176.5 431.5 170.3C434.6 164.1 433.3 166.1 436.1 162.5C438.9 158.9 437.9 159.2 440 159.4Z"/>
<path fill="#00ff50" d="M419.8 128.5C421.1 123.5 422.4 123.8 422.9 128.5C423.5 133.1 422.7 137.5 421.4 142.4C420.1 147.3 419.6 147.8 419.1 143.2C418.6 138.5 418.6 133.4 419.8 128.5Z"/>
<path fill="#00ff50" d="M429.9 128.5C431.7 124.8 433.3 123.3 434.6 128.5C435.8 133.6 435.3 137.7 433.8 143.9C432.2 150.1 431.5 148.6 429.9 147C428.4 145.5 429.1 145.5 429.1 139.3C429.1 133.1 428.1 132.1 429.9 128.5Z"/>
<path fill="#00ff50" d="M446.2 128.5C447.7 123 450 124.3 451.6 128.5C453.1 132.6 452.4 135.4 450.8 140.8C449.3 146.3 448.5 148.8 446.9 144.7C445.4 140.6 444.6 133.9 446.2 128.5Z"/>
<path fill="#00ff50" d="M451.6 170.3C454.9 164.6 454.7 167.7 457.8 165.6C460.9 163.6 458.3 163.8 460.9 164.1C463.5 164.3 462.4 166.7 465.5 166.4C468.6 166.1 466.6 166.7 470.2 163.3C473.8 159.9 472.8 161.2 476.4 156.3C480 151.4 478.2 153.7 481 148.6C483.9 143.4 483.1 147.6 484.9 140.8C486.7 134.1 463.2 132.6 486.4 128.5C509.6 124.3 531.5 122.8 554.5 128.5C577.4 134.1 553.7 137.7 555.3 145.5C556.8 153.2 556 149.4 559.1 151.7C562.2 154 560.7 153.2 564.6 152.5C568.4 151.7 566.6 151.2 570.8 149.4C574.9 147.6 573.6 146.3 576.9 147C580.3 147.8 578.2 147.6 580.8 151.7C583.4 155.8 581.3 155.8 584.7 159.4C588 163 586.2 161.2 590.9 162.5C595.5 163.8 593.5 162.5 598.6 163.3C603.8 164.1 602 162.8 606.4 164.8C610.8 166.9 609.5 166.1 611.8 169.5C614.1 172.8 614.1 171.8 613.3 174.9C612.6 178 613.3 176.7 609.5 178.8C605.6 180.8 607.4 180.6 601.7 181.1C596 181.6 597.6 181.4 592.4 180.3C587.3 179.3 591.4 178.8 586.2 178C581.1 177.2 583.1 177.8 576.9 178C570.8 178.3 573.3 178 567.7 178.8C562 179.6 564.6 178.5 559.9 180.3C555.3 182.1 557.8 181.4 553.7 184.2C549.6 187 552.7 187 547.5 188.8C542.4 190.7 544.9 189.4 538.2 189.6C531.5 189.9 531.8 190.4 527.4 189.6C523 188.8 530.1 187.3 525 187.3C519.9 187.3 519.4 188.8 512 189.6C504.6 190.4 507.9 189.1 502.7 189.6C497.5 190.1 500.1 191.4 496.5 191.2C492.9 190.9 496 188.1 491.9 188.8C487.7 189.6 489.3 189.9 484.1 193.5C479 197.1 481 195.6 476.4 199.7C471.7 203.8 473.5 204.1 470.2 205.9C466.8 207.7 467.3 207.7 466.3 205.1C465.3 202.5 467.3 201.8 467.1 198.1C466.8 194.5 467.3 194.8 465.5 194.3C463.7 193.8 464.2 193.8 461.7 196.6C459.1 199.4 461.1 199.2 457.8 202.8C454.4 206.4 455.7 205.1 451.6 207.4C447.5 209.8 448.5 208.7 445.4 209.8C442.3 210.8 443.3 212.9 442.3 210.5C441.3 208.2 441.5 209 442.3 202.8C443.1 196.6 442.8 198.7 444.6 191.9C446.4 185.2 445.4 189.9 447.7 182.7C450 175.4 448.2 175.9 451.6 170.3Z"/>
<path fill="#f0ff00" d="M501.9 128.5C506.6 123.8 510.7 123.8 513.5 128.5C516.4 133.1 514.1 133.6 510.4 142.4C506.8 151.2 507.9 147.6 502.7 154.8C497.5 162 500.1 157.4 495 164.1C489.8 170.8 492.4 168.7 487.2 174.9C482.1 181.1 484.1 179.3 479.5 182.7C474.8 186 474.3 187 473.3 185C472.2 182.9 472.8 183.4 476.4 176.5C480 169.5 478.4 172.3 484.1 164.1C489.8 155.8 488.2 158.9 493.4 151.7C498.6 144.5 496.8 150.1 499.6 142.4C502.4 134.6 497.3 133.1 501.9 128.5Z"/>
<path fill="#f0ff00" d="M525.5 128.5C529.9 125.4 534.9 124.3 538.5 128.5C542.2 132.6 538.5 134.1 536.4 140.8C534.2 147.6 535 143.9 532 148.6C529 153.2 531 150.6 527.4 154.8C523.8 158.9 525.3 158.1 521.2 161C517.1 163.8 515.5 163 515 163.3C514.5 163.6 519.7 162 519.7 161.7C519.8 161.5 517.4 163.6 515.1 162.5C512.8 161.5 513.3 161.7 512.8 158.7C512.2 155.6 511.7 156.1 513.5 153.2C515.3 150.4 516.2 150.6 518.2 150.1C520.2 149.6 517.6 152.7 519.6 151.7C521.7 150.6 522.3 151.7 524.3 147C526.3 142.4 525.1 143.9 525.5 137.7C525.9 131.5 521.2 131.5 525.5 128.5Z"/>
<path fill="#00ff50" d="M610.2 128.5C614.1 125.4 618 124.3 623.4 128.5C628.8 132.6 624.2 134.6 626.5 140.8C628.8 147 628.8 143.4 630.4 147C631.9 150.6 631.9 149.4 631.2 151.7C630.4 154 631.2 155 628.1 154C625 153 626 152.2 621.9 148.6C617.7 145 619 146.8 615.7 143.2C612.3 139.6 613.6 142.6 611.8 137.7C610 132.8 606.4 131.5 610.2 128.5Z"/>
<path fill="#00ff50" d="M635.8 125C629.5 127.3 635.9 128.1 636.2 131.9C636.5 135.7 635.9 133.1 636.7 136.5C637.5 139.9 637 138.9 638.5 142C640 145.1 639.5 143.4 641.3 145.7C643.1 148 641.9 147.2 644 148.9C646.1 150.6 644 150 647.7 150.9C651.4 151.8 652.6 160.1 655 151.5C657.4 142.9 661.4 133.8 655 125C648.6 116.2 642.1 122.7 635.8 125Z"/>
<path fill="#00ff50" d="M583.1 218.3C584.7 215.5 584.2 216.2 589.3 214.4C594.5 212.6 591.4 213.4 598.6 212.9C605.9 212.4 603.3 211.6 611 212.9C618.8 214.2 615.7 213.9 621.9 216.7C628.1 219.6 627.3 218 629.6 221.4C631.9 224.7 630.9 223.5 628.8 226.8C626.8 230.2 627.3 229.9 623.4 231.5C619.5 233 622.4 232.2 617.2 231.5C612.1 230.7 614.1 230.7 607.9 229.1C601.7 227.6 604.8 228.1 598.6 226.8C592.4 225.5 594 226.6 589.3 225.3C584.7 224 586.8 225.3 584.7 222.9C582.6 220.6 581.6 221.1 583.1 218.3Z"/>
<path fill="#00ff50" d="M516.5 224.5C518.1 222.9 518.1 222.7 521.2 222.1C524.3 221.6 524.6 221.6 525.8 222.9C527.1 224.2 527.1 224.4 525.1 226C523 227.7 522.5 227.6 519.6 227.9C516.8 228.1 517.6 227.9 516.5 226.8C515.5 225.7 515 226 516.5 224.5Z"/>
<path fill="#00ff50" d="M515.9 224.9C516 223 516.6 223 519.7 222.1C522.9 221.2 523.1 221.2 525.3 222.1C527.4 223 526.9 223.4 526.2 224.9C525.4 226.3 525.4 225.6 523.1 226.5C520.7 227.4 521.6 228.2 519.2 227.6C516.8 227.1 515.7 226.7 515.9 224.9Z"/>
<path fill="#00ff50" d="M387.5 205C388.6 203.9 388.6 203.9 390.7 203.4C392.8 202.8 393 202.8 393.9 203.4C394.8 203.9 394.6 203.9 393.4 205C392.1 206.1 392.1 206.1 390.2 206.6C388.2 207.1 388.4 207.1 387.5 206.6C386.6 206.1 386.4 206.1 387.5 205Z"/>
<path fill="#00ff50" d="M645.9 229.3C647.7 228.1 649.5 227.2 651.3 228.5C653.1 229.8 653.1 232 651.3 233.2C649.5 234.4 647.7 233.4 645.9 232.1C644.1 230.8 644.1 230.5 645.9 229.3Z"/>
<path fill="#00f0ff" d="M274.9 204.8C274.6 205.4 274.8 205.3 273.7 205.4C272.7 205.6 273.1 205.6 271.7 205.2C270.2 204.7 270.7 205 269.4 204.1C268.2 203.3 268.5 203.6 267.9 202.7C267.3 201.8 267.3 202 267.6 201.4C267.9 200.8 267.7 200.9 268.8 200.8C269.9 200.6 269.4 200.6 270.9 201C272.3 201.5 271.8 201.2 273.1 202.1C274.4 202.9 274 202.6 274.6 203.5C275.2 204.4 275.2 204.1 274.9 204.8Z"/>
<path fill="#00f0ff" d="M465.5 174.1C468.1 172.6 468.9 172.6 469.4 174.9C469.9 177.2 468.9 177.2 467.1 181.1C465.3 185 466 185 464 186.5C461.9 188.1 461.7 188.1 460.9 185.8C460.1 183.4 460.1 183.4 461.7 179.6C463.2 175.7 462.9 175.7 465.5 174.1Z"/>
<path fill="#00f0ff" d="M502.7 163.3C502.4 165.1 502.7 165.6 499.6 170.3C496.5 174.9 497.3 173.9 493.4 177.2C489.5 180.6 489.5 180.6 488 180.3C486.4 180.1 486.4 180.1 488.8 176.5C491.1 172.8 491.1 173.4 495 169.5C498.8 165.6 497.8 166.9 500.4 164.8C503 162.8 503 161.5 502.7 163.3Z"/>
<path fill="#00f0ff" d="M507.3 173.4C508.6 170.3 508.4 171.6 512 170.3C515.6 169 513.1 171 518.2 169.5C523.3 167.9 522.8 169 527.4 165.6C532 162.3 528.4 164.1 532 159.4C535.6 154.8 534.6 156.1 538.2 151.7C541.8 147.3 540.6 147.3 542.9 146.3C545.2 145.2 544.9 145.2 545.2 148.6C545.5 151.9 545.5 151.2 543.7 156.3C541.8 161.5 541.3 158.9 539.8 164.1C538.2 169.2 539 167.7 539 171.8C539 175.9 540.6 174.4 539.8 176.5C539 178.5 539.8 178.5 536.7 178C533.6 177.5 534.6 174.9 530.5 174.9C526.4 174.9 528.4 175.4 524.3 178C520.2 180.6 520.1 181.1 518.1 182.7C516.1 184.2 520.2 182.4 518.2 182.7C516.2 182.9 515.3 184.5 512 183.4C508.6 182.4 509.7 182.9 508.1 179.6C506.6 176.2 506.1 176.5 507.3 173.4Z"/>
<path fill="#00f0ff" d="M549.8 167.9C551.7 164.8 550.9 165.6 555.3 162.5C559.7 159.4 557.3 160.5 563 158.7C568.7 156.8 567.7 156.3 572.3 157.1C576.9 157.9 575.4 157.6 576.9 161C578.5 164.3 578.5 163.8 576.9 167.2C575.4 170.5 576.4 169 572.3 171C568.2 173.1 570.2 172.6 564.6 173.4C558.9 174.1 560.2 173.9 555.3 173.4C550.4 172.8 551.7 173.6 549.8 171.8C548 170 548 171 549.8 167.9Z"/>
<path fill="#00f0ff" d="M605.2 171.8C605.2 173.4 605.4 172.9 604.1 174.2C602.8 175.5 603.4 175.2 601.2 175.7C599 176.2 599.8 176.2 597.6 175.7C595.4 175.2 596 175.5 594.7 174.2C593.4 172.9 593.6 173.4 593.6 171.8C593.6 170.2 593.4 170.7 594.7 169.4C596 168.1 595.4 168.4 597.6 167.9C599.8 167.4 599 167.4 601.2 167.9C603.4 168.4 602.8 168.1 604.1 169.4C605.4 170.7 605.2 170.2 605.2 171.8Z"/>
<path fill="#00f0ff" d="M593.2 218.3C596 217.1 598.9 217.1 601.7 218.3C604.6 219.5 604.6 220.7 601.7 221.9C598.9 223 596 223 593.2 221.9C590.4 220.7 590.4 219.5 593.2 218.3Z"/>
<path fill="#00f0ff" d="M453 201.2C453 201.8 453 201.6 452.7 202.1C452.4 202.5 452.5 202.4 452 202.6C451.5 202.7 451.7 202.7 451.2 202.6C450.6 202.4 450.8 202.5 450.5 202.1C450.1 201.6 450.2 201.8 450.2 201.2C450.2 200.7 450.1 200.9 450.5 200.4C450.8 200 450.6 200.1 451.2 199.9C451.7 199.7 451.5 199.7 452 199.9C452.5 200.1 452.4 200 452.7 200.4C453 200.9 453 200.7 453 201.2Z"/>
<path fill="#00ff50" d="M250 264.9C252.2 254.4 251.2 264.7 257.3 264.9C263.5 265.1 261.9 265.7 270.5 265.7C279.1 265.7 276.7 265.1 286 264.9C295.3 264.7 295 266.1 301.5 264.9C308 263.8 304.4 262.9 307.7 261C310.9 259.2 309 258.7 312.3 258.7C315.6 258.7 315.2 261.7 318.5 261C321.7 260.3 320.4 257.1 323.1 256.4C325.9 255.7 325 258.5 327.8 258.7C330.6 258.9 330.1 259 332.4 257.2C334.8 255.3 332.3 255.1 335.5 252.5C338.8 250 338.6 250.5 343.3 248.7C347.9 246.8 345.9 247.7 351 246.3C356.1 244.9 354.7 245.2 360.3 244C365.9 242.8 364.7 242.7 369.6 242.5C374.5 242.2 373.8 241.4 376.6 243.2C379.4 245.1 376.8 245.6 378.9 248.7C381 251.7 381.2 253.1 383.5 253.3C385.9 253.5 384.3 251.3 386.6 249.4C389 247.6 389 246.6 391.3 247.1C393.6 247.6 392 250.5 394.3 251C396.6 251.4 396.6 248.2 398.9 248.7C401.3 249.1 399.2 252.8 402 252.5C404.8 252.3 404.5 250.7 408.2 247.9C411.9 245.1 410.9 245.3 414.4 243.2C417.9 241.1 417.5 240.4 419.8 240.9C422.2 241.4 422.4 241.8 422.2 244.8C421.9 247.8 420.9 246.8 419.1 251C417.2 255.2 417.4 254.8 416 258.7C414.6 262.7 413.7 262.7 414.4 264.1C415.1 265.5 415.5 265.2 418.3 263.4C421.1 261.5 420.7 261.7 423.7 257.9C426.7 254.2 425.1 254.9 428.4 251C431.6 247 431.1 247.1 434.6 244.8C438 242.5 439 241.8 440 243.2C440.9 244.6 439.7 245.7 437.7 249.4C435.6 253.1 435.6 252.4 433 255.6C430.5 258.9 430.5 258.2 429.1 260.3C427.7 262.4 426.7 261.4 428.4 262.6C430 263.8 431.3 263 434.6 264.1C437.8 265.3 434.6 265.5 439.2 266.5C443.8 267.4 443.1 267.2 450 267.2C457 267.2 455 266.5 462.4 266.5C469.9 266.5 467.9 267.2 474.8 267.2C481.8 267.2 479.2 266.9 485.7 266.5C492.2 266 489.5 266.2 496.5 265.7C503.5 265.2 500.6 265.6 508.9 264.9C517.2 264.2 516.9 264.3 524.3 263.4C531.7 262.4 527.1 261.8 533.6 261.8C540.1 261.8 537.6 262.4 546 263.4C554.3 264.3 552.2 264.4 561.5 264.9C570.8 265.4 569 264.9 576.9 264.9C584.8 264.9 582.2 265.8 587.8 264.9C593.4 264 590.9 263.2 595.5 261.8C600.2 260.4 598.6 260 603.3 260.3C607.9 260.5 605 261.4 611 262.6C617.1 263.8 615 263.4 623.4 264.1C631.8 264.8 631.9 264.4 638.9 264.9C645.9 265.4 641.8 265.4 646.6 265.7C651.5 266 652.5 255.7 655 266C657.5 276.3 776.5 289.8 655 300C533.5 310.2 371.5 310.5 250 300C128.5 289.5 247.8 275.4 250 264.9Z"/>
<path fill="#f0ff00" d="M348.7 258.7C350.5 257.2 349.7 258.5 354.1 257.2C358.5 255.9 357.7 257.2 361.9 254.8C366 252.5 363.4 251.7 366.5 250.2C369.6 248.7 368.3 249.2 371.2 250.2C374 251.2 373 253.8 375 253.3C377.1 252.8 375.5 249.7 377.3 248.7C379.2 247.6 379.4 248.1 380.4 250.2C381.5 252.3 380.2 251 380.4 254.8C380.7 258.7 382.2 258.5 381.2 261.8C380.2 265.2 381.2 264.7 377.3 264.9C373.5 265.2 374.8 262.8 369.6 262.6C364.4 262.3 367 263.4 361.9 264.1C356.7 264.9 358.2 264.4 354.1 264.9C350 265.4 351.3 266.7 349.5 265.7C347.7 264.7 349 264.1 348.7 261.8C348.4 259.5 346.9 260.3 348.7 258.7Z"/>
<path fill="#00ff50" d="M374.2 254.1C374.5 251 375.8 250.5 377.3 249.4C378.9 248.4 378.5 248.4 378.9 251C379.3 253.6 379.4 254.6 378.6 257.2C377.8 259.7 378 259.7 376.6 258.7C375.1 257.7 374 257.2 374.2 254.1Z"/>
<path fill="#f0ff00" d="M386.6 266.5C386.6 263.6 386.9 261.8 388.2 258.7C389.5 255.6 390 255.6 390.5 257.2C391 258.7 390.5 260 389.7 263.4C389 266.7 389.2 266.2 388.2 267.2C387.2 268.3 386.6 269.3 386.6 266.5Z"/>
<path fill="#f0ff00" d="M386.5 266.5C387.1 263.1 387.3 260.3 388.9 257.2C390.4 254.1 390.9 254.6 391.2 257.2C391.5 259.7 390.9 261.6 389.6 264.9C388.4 268.3 388.4 266.7 387.3 267.2C386.3 267.8 386 269.8 386.5 266.5Z"/>
<path fill="#00ff50" d="M440.8 247.9C443.1 245 442.3 246.8 446.9 245.6C451.6 244.3 451.6 243.5 454.7 244C457.8 244.5 457.8 244.8 456.2 247.1C454.7 249.4 454.2 248.7 450 251C445.9 253.3 447.2 253 443.8 254.1C440.5 255.1 441 256.1 440 254.1C438.9 252 438.4 250.7 440.8 247.9Z"/>
<path fill="#00f0ff" d="M407.5 254.1C408.5 252.5 409.8 252.3 410.6 253.3C411.3 254.3 410.8 255.6 409.8 257.2C408.7 258.7 408.2 259 407.5 257.9C406.7 256.9 406.4 255.6 407.5 254.1Z"/>
<path fill="#00f0ff" d="M405.1 261C406.1 259.7 407.3 259.5 408.2 260.3C409.2 261 408.8 262.1 407.9 263.4C407 264.7 406.4 264.9 405.4 264.1C404.5 263.4 404.2 262.3 405.1 261Z"/>
<path fill="#00f0ff" d="M250 270.3C252.4 270.3 251.5 270.1 257.3 270.3C263.1 270.6 260.4 271.4 267.4 271.1C274.4 270.8 271 270.6 278.2 269.6C285.5 268.5 281.8 268.5 289.1 268C296.3 267.5 293.7 267.5 299.9 268C306.1 268.5 303 270.3 307.7 269.6C312.3 268.8 310.2 266.7 313.8 265.7C317.5 264.7 314.9 264.9 318.5 266.5C322.1 268 321.1 270.1 324.7 270.3C328.3 270.6 326.2 267.2 329.3 267.2C332.4 267.2 330.6 268.5 334 270.3C337.3 272.1 334.8 272.1 339.4 272.7C344 273.2 342.5 272.4 347.9 271.9C353.3 271.4 349 271.4 355.7 271.1C362.4 270.8 360.3 270.8 368.1 271.1C375.8 271.4 372.7 270.8 378.9 271.9C385.1 272.9 382.5 273.2 386.6 274.2C390.7 275.2 387.6 275.2 391.2 275C394.8 274.7 394.3 274.5 397.4 273.4C400.5 272.4 398.4 273.7 400.5 271.9C402.6 270.1 401.8 267.8 403.6 268C405.4 268.3 404.4 269.6 405.9 272.7C407.5 275.8 405.4 277 408.2 277.3C411.1 277.6 409.8 275.2 414.4 273.4C419.1 271.6 416.5 271.9 422.2 271.9C427.8 271.9 425.3 272.7 431.5 273.4C437.7 274.2 434.6 274.2 440.8 274.2C446.9 274.2 443.8 274.2 450 273.4C456.2 272.7 453.7 271.6 459.3 271.9C465 272.1 460.9 273.7 467.1 274.2C473.3 274.7 470.2 273.9 477.9 273.4C485.7 272.9 482.1 273.4 490.3 272.7C498.6 271.9 495 272 502.7 271.1C510.4 270.2 506.3 270.6 513.5 269.9C520.7 269.1 517.1 269.1 524.3 268.8C531.5 268.4 527.9 268.3 535.1 268.8C542.4 269.3 537.2 269.8 546 270.3C554.7 270.8 551.1 270.3 561.5 270.3C571.8 270.3 567.7 270.3 576.9 270.3C586.2 270.3 582.1 269.8 589.3 270.3C596.6 270.8 592.4 271.9 598.6 271.9C604.8 271.9 600.7 271.6 607.9 270.3C615.1 269 612.6 268.3 620.3 268C628.1 267.8 622.4 268.8 631.2 269.6C639.9 270.3 638.7 270.1 646.6 270.3C654.6 270.6 652.2 270.3 655 270.3L655 393 L250 393 Z"/>
<path fill="#0032f0" d="M250 277.3C252.4 277.3 250.5 277.6 257.3 277.3C264.2 277 263 277.6 270.5 276.5C278 275.5 272.6 274.7 279.8 274.2C287 273.7 285.5 275.5 292.2 275C298.9 274.5 295.3 272.7 299.9 272.7C304.6 272.7 301.5 272.9 306.1 275C310.8 277 309.7 278.1 313.8 278.8C318 279.6 314.9 276.8 318.5 277.3C322.1 277.8 320 279.1 324.7 280.4C329.3 281.7 326.8 281.2 332.4 281.2C338.1 281.2 335.5 281.2 341.7 280.4C347.9 279.6 343.8 279.1 351 278.8C358.2 278.6 355.1 279.4 363.4 279.6C371.7 279.9 368.1 279.4 375.8 279.6C383.5 279.9 381 279.9 386.6 280.4C392.3 280.9 388.1 281.7 392.7 281.2C397.4 280.7 396.9 278.1 400.5 278.8C404.1 279.6 401 281.9 403.6 283.5C406.2 285 404.1 284.3 408.2 283.5C412.4 282.7 409.3 281.4 416 281.2C422.7 280.9 420.6 283 428.4 282.7C436.1 282.5 430.9 281.9 439.2 280.4C447.5 278.8 446.4 278.6 453.1 278.1C459.9 277.6 455.2 277.6 459.3 278.8C463.5 280.1 461.4 281.4 465.5 281.9C469.7 282.5 465.5 281.4 471.7 280.4C477.9 279.4 473.8 279.9 484.1 278.8C494.4 277.8 492.9 278 502.7 277.3C512.5 276.6 506.3 277 513.5 276.8C520.7 276.6 518.6 276.6 524.3 276.7C529.9 276.7 523.3 276.3 530.5 277C537.7 277.7 535.6 278.3 546 278.8C556.3 279.4 551.1 278.6 561.5 278.5C571.8 278.4 566.6 278.2 576.9 278.5C587.3 278.9 584.2 279.3 592.4 279.6C600.7 280 595.5 280.1 601.7 279.6C607.9 279.1 603.8 279.1 611 278.1C618.2 277 615.1 277 623.4 276.5C631.7 276 628.1 276 635.8 276.5C643.5 277 640.2 277.6 646.6 278.1C653 278.6 652.2 278.1 655 278.1L655 393 L250 393 Z"/>
<path fill="#0000aa" d="M250 285.8C252.4 285.8 250.5 285.8 257.3 285.8C264.2 285.8 264.6 285.6 270.5 285.8C276.4 286.1 270 286.6 275.1 286.6C280.3 286.6 277.2 286.1 286 285.8C294.7 285.6 291.1 285.6 301.5 285.8C311.8 286.1 306.6 286.3 316.9 286.6C327.3 286.9 322.1 286.6 332.4 286.6C342.8 286.6 337.6 286.3 347.9 286.6C358.2 286.9 353.1 286.6 363.4 287.4C373.7 288.1 371.2 288.7 378.9 288.9C386.6 289.2 382.5 288.4 386.6 288.1C390.7 287.9 387.6 288.7 391.2 288.1C394.8 287.6 393.3 285.6 397.4 286.6C401.5 287.6 398.4 290.5 403.6 291.2C408.7 292 406.2 288.9 412.9 288.9C419.6 288.9 416 291.2 423.7 291.2C431.5 291.2 428.4 290.5 436.1 288.9C443.8 287.4 440.8 287.1 446.9 286.6C453.1 286.1 450.6 285.3 454.7 287.4C458.8 289.4 456.8 292.3 459.3 292.8C461.9 293.3 458.3 291 462.4 288.9C466.6 286.9 464 287.6 471.7 286.6C479.5 285.6 473.3 285.8 485.7 285.8C498.1 285.8 495.5 286 508.9 286.6C522.3 287.2 515.5 287.4 525.8 287.7C536.1 287.9 530.5 287.7 539.8 287.4C549.1 287 543.9 287 553.7 286.6C563.5 286.2 559.9 286.3 569.2 286.3C578.5 286.3 572.8 286.5 581.6 286.6C590.4 286.7 586.8 286.9 595.5 286.6C604.3 286.3 598.6 286.1 607.9 285.8C617.2 285.6 613.1 286.2 623.4 285.8C633.7 285.5 631.2 285.1 638.9 284.7C646.6 284.4 641.3 284.7 646.6 284.7C652 284.7 652.2 284.7 655 284.7L655 393 L250 393 Z"/>
<path fill="#7a00a0" d="M358 329.4C357.8 328.4 358.8 325 359.5 323.2C360.2 321.3 360.8 319.9 361.5 320.1C362.3 320.2 362.1 322.7 363.4 323.9C364.7 325.2 365.9 325.9 368.1 326.3C370.2 326.7 372.4 325.9 374.2 326C376.1 326 376.1 326 377.3 326.7C378.6 327.4 381.1 328.6 380.4 329.4C379.8 330.1 376.7 330.4 374.2 330.6C371.8 330.8 370.2 330.7 368.1 330.1C365.9 329.6 365 328.3 363.4 327.8C361.9 327.3 361.4 327.5 360.3 327.8C359.2 328.1 358.1 330.3 358 329.4Z"/>
<path fill="#0032f0" d="M361 315h1.2v4h-1.2Z"/>
<path fill="#0032f0" d="M250 335.6C252.4 335.6 253.1 335 257.3 335.6C261.6 336.1 258.4 334.8 262.7 337.1C267.1 339.4 265.3 339.9 270.5 342.5C275.6 345.1 273.1 345.4 278.2 344.8C283.4 344.3 280.8 342.8 286 341C291.1 339.2 287.5 339.7 293.7 339.4C299.9 339.2 298.4 338.9 304.6 340.2C310.8 341.5 306.6 342.5 312.3 343.3C318 344.1 314.9 343 321.6 342.5C328.3 342 325.7 342.5 332.4 341.7C339.1 341 336.6 341.5 341.7 340.2C346.9 338.9 343.8 339.2 347.9 337.9C352.1 336.6 351.5 334.8 354.1 336.3C356.7 337.9 352.6 340.7 355.7 342.5C358.8 344.3 357.7 342 363.4 341.7C369.1 341.5 366 341.2 372.7 341.7C379.4 342.3 376.9 342.3 383.5 343.3C390.2 344.3 387.1 344.3 392.7 344.8C398.4 345.4 395.3 345.6 400.5 344.8C405.6 344.1 403.6 344.3 408.2 342.5C412.9 340.7 409.3 341 414.4 339.4C419.6 337.9 416.5 338.1 423.7 337.9C430.9 337.6 429.9 337.4 436.1 338.7C442.3 339.9 437.7 341 442.3 341.7C446.9 342.5 444.9 341.5 450 341C455.2 340.5 453.7 339.4 457.8 340.2C461.9 341 457.8 342.3 462.4 343.3C467.1 344.3 466.6 344.6 471.7 343.3C476.9 342 473.8 341 477.9 339.4C482.1 337.9 479 338.7 484.1 338.7C489.3 338.7 487.2 337.9 493.4 339.4C499.6 341 497.5 343.3 502.7 343.3C507.9 343.3 505.3 340 508.9 339.4C512.5 338.8 509.4 341.4 513.5 341.4C517.6 341.4 515.5 340.4 521.2 339.4C526.8 338.5 524.8 337.4 530.5 338.7C536.2 339.9 533.6 341.2 538.2 343.3C542.9 345.4 539.8 345.9 544.4 344.8C549.1 343.8 547.5 342.5 552.2 340.2C556.8 337.9 552.7 338.4 558.4 337.9C564 337.4 562.5 338.1 569.2 338.7C575.9 339.2 573.3 337.9 578.5 339.4C583.7 341 580.6 343 584.7 343.3C588.8 343.6 586.2 341.7 590.9 340.2C595.5 338.7 592.9 338.7 598.6 338.7C604.3 338.7 602.2 340.5 607.9 340.2C613.6 339.9 610.5 339.4 615.7 337.9C620.8 336.3 617.7 336.8 623.4 335.6C629.1 334.3 625 334.3 632.7 334C640.4 333.7 639.2 334.5 646.6 334.8C654.1 335 652.2 334.8 655 334.8L655 393 L250 393 Z"/>
<path fill="#00f0ff" d="M251.9 369.6C253.9 361.7 254.4 369.4 257.3 370.4C260.2 371.4 260.1 371.8 262.7 373.5C265.4 375.1 265.3 377.8 267.4 376.6C269.5 375.4 268.6 373.4 270.5 368.8C272.3 364.3 272.3 363.5 274.4 359.6C276.4 355.6 276.4 354.6 278.2 354.1C280.1 353.7 280.9 354.5 281.3 358C281.7 361.5 279.4 362.8 279.8 367.3C280.2 371.8 280 372.6 282.9 375C285.8 377.5 280.7 376.6 290.6 376.6C300.5 376.6 309.7 375 320 375C330.4 375 321.9 375.8 329.3 376.6C336.8 377.4 338.8 378.1 347.9 378.1C357 378.1 355.1 377 363.4 376.6C371.7 376.2 370.5 374.9 378.9 376.6C387.3 378.2 321.4 376.5 395 382.8C468.6 389 693.7 395.4 655 400C616.3 404.6 357.5 408.1 250 400C142.5 391.9 249.9 377.5 251.9 369.6Z"/>
<path fill="#00f0ff" d="M286 350.3C289.6 347.9 288.6 348.5 295.3 347.9C302 347.4 298.9 347.4 306.1 348.7C313.3 350 310.8 349.7 316.9 351.8C323.1 353.9 320.6 354.4 324.7 354.9C328.8 355.4 324.7 354.9 329.3 353.4C334 351.8 332.9 352.8 338.6 350.3C344.3 347.7 342.2 346.4 346.4 345.6C350.5 344.8 348.7 344.3 351 347.9C353.3 351.6 353.3 351.6 353.3 356.5C353.3 361.4 353.9 360.1 351 362.7C348.2 365.2 349 362.7 344.8 364.2C340.7 365.8 343.8 365.5 338.6 367.3C333.5 369.1 335 368.1 329.3 369.6C323.7 371.2 324.7 370.1 321.6 371.9C318.5 373.8 322.6 373 320 375C317.5 377.1 318.5 376.6 313.8 378.1C309.2 379.7 311.3 379.7 306.1 379.7C300.9 379.7 303.5 378.7 298.4 378.1C293.2 377.6 295.3 378.9 290.6 378.1C286 377.4 287 378.4 284.4 375.8C281.8 373.2 282.6 375.3 282.9 370.4C283.1 365.5 284.7 366.3 285.2 361.1C285.7 355.9 284.2 358.5 284.4 354.9C284.7 351.3 282.4 352.6 286 350.3Z"/>
<path fill="#0032f0" d="M299.9 359.6C301.2 357.8 302.8 357.8 303.8 358.8C304.8 359.8 304.3 360.8 303 362.7C301.7 364.5 300.9 365.2 299.9 364.2C298.9 363.2 298.6 361.4 299.9 359.6Z"/>
<path fill="#0032f0" d="M307.7 368.1C310.2 365.8 313.3 364.5 313.8 365.8C314.4 367 311.8 369.6 309.2 371.9C306.6 374.3 306.6 374 306.1 372.7C305.6 371.4 305.1 370.4 307.7 368.1Z"/>
<path fill="#0032f0" d="M279.8 362.7C279.9 358.8 280.3 358.8 281.6 361.9C282.9 365 283.8 368.1 283.7 371.9C283.5 375.8 282.6 376.6 281.3 373.5C280 370.4 279.7 366.5 279.8 362.7Z"/>
<path fill="#00f0ff" d="M371.2 356.5C371.7 352.3 372.2 353.4 375.8 350.3C379.4 347.2 377.3 347.7 382 347.2C386.6 346.7 386.7 347.7 389.7 348.7C392.8 349.7 389.4 348.2 391.2 350.3C393 352.3 394 351.3 395.1 354.9C396.1 358.5 396.1 358 394.3 361.1C392.5 364.2 391.7 362.7 389.6 364.2C387.6 365.8 391.8 363.9 388.2 365.8C384.6 367.6 384.1 368.6 378.9 369.6C373.7 370.7 374.2 371.2 372.7 368.8C371.2 366.5 374.8 366.8 374.2 362.7C373.7 358.5 370.6 360.6 371.2 356.5Z"/>
<path fill="#00ff50" d="M383.5 353.4C384.8 352.1 386.1 351.6 386.6 354.1C387.2 356.7 386.9 357.8 385.1 361.1C383.3 364.5 382 365.2 381.2 364.2C380.4 363.2 382 361.6 382.8 358C383.5 354.4 382.2 354.7 383.5 353.4Z"/>
<path fill="#0032f0" d="M320 373.5C322.1 371.4 322.1 371.4 329.3 369.6C336.6 367.8 335.5 369.9 341.7 368.1C347.9 366.3 343.3 365.5 347.9 364.2C352.6 362.9 350.5 365.2 355.7 364.2C360.8 363.2 358.2 361.6 363.4 361.1C368.6 360.6 367.5 360.6 371.2 362.7C374.8 364.7 374.8 364.2 374.2 367.3C373.7 370.4 373.2 368.8 369.6 371.9C366 375 368.1 374 363.4 376.6C358.8 379.2 360.8 379.2 355.7 379.7C350.5 380.2 353.6 379.2 347.9 378.1C342.2 377.1 344.8 377.1 338.6 376.6C332.4 376.1 334.5 376.9 329.3 376.6C324.2 376.3 326.2 376.9 323.1 375.8C320 374.8 318 375.6 320 373.5Z"/>
<path fill="#0000aa" d="M360.3 362.7C363.4 361.1 366.8 361.1 371.2 361.9C375.5 362.7 374 363.2 373.5 365C373 366.8 373.5 366.8 369.6 367.3C365.7 367.8 365 368.1 361.9 366.5C358.8 365 357.2 364.2 360.3 362.7Z"/>
<path fill="#0000aa" d="M344.8 368.8C345.6 367.3 346.6 367 347.9 368.1C349.2 369.1 349.5 370.4 348.7 371.9C347.9 373.5 346.9 373.8 345.6 372.7C344.3 371.7 344 370.4 344.8 368.8Z"/>
<path fill="#0000aa" d="M351.8 371.2C352.4 370 353.2 369.6 354.1 370.4C355 371.2 355 372.4 354.4 373.5C353.8 374.6 353.1 374.6 352.3 373.8C351.4 373 351.2 372.3 351.8 371.2Z"/>
<path fill="#0032f0" d="M332.4 378.1C333.5 376.3 335.5 376.6 338.6 378.1C341.7 379.7 342.8 381 341.7 382.8C340.7 384.6 338.6 385.1 335.5 383.6C332.4 382 331.4 379.9 332.4 378.1Z"/>
<path fill="#0032f0" d="M347.9 379.7C349 377.6 350.8 377.4 352.6 378.9C354.4 380.5 354.4 382.3 353.3 384.3C352.3 386.4 351.3 386.7 349.5 385.1C347.7 383.6 346.9 381.8 347.9 379.7Z"/>
<path fill="#0032f0" d="M372.7 371.9C375.3 369.9 374.6 370.4 382 368.8C389.4 367.3 391.9 367.6 395 367.3C398.1 367 390.4 367.6 391.2 368.1C392 368.6 394.3 367 397.4 368.8C400.5 370.7 397.9 371.4 400.5 373.5C403.1 375.6 402.6 373.5 405.1 375C407.7 376.6 409.8 376.6 408.2 378.1C406.7 379.7 405.1 379.7 400.5 379.7C395.8 379.7 397.4 377.1 394.3 378.1C391.2 379.2 394.3 381.8 391.2 382.8C388.1 383.8 386 382.3 385 381.2C384 380.2 390.2 381.2 388.2 379.7C386.2 378.1 383.5 378.1 378.9 376.6C374.2 375 376.3 376.6 374.2 375C372.2 373.5 370.1 374 372.7 371.9Z"/>
<path fill="#0000aa" d="M377.3 371.9C382.7 370.1 388.8 370 395 368.8C401.2 367.7 394.8 367.5 395.8 368.5C396.9 369.6 399.7 370 398.2 371.9C396.6 373.9 392.2 373.2 391.2 374.3C390.1 375.3 399.1 375 395 375C390.9 375 384.8 375.3 378.9 374.3C373 373.2 372 373.8 377.3 371.9Z"/>
<path fill="#00f0ff" d="M398.2 359.6C398.7 355.9 398.7 357.2 402 353.4C405.4 349.5 403.1 350.5 408.2 347.9C413.4 345.4 411.8 345.9 417.5 345.6C423.2 345.4 420.6 345.4 425.3 347.2C429.9 349 426.8 349.7 431.5 351C436.1 352.3 433 351.6 439.2 351C445.4 350.5 444.4 350.5 450 349.5C455.7 348.5 455.2 346.1 456.2 347.9C457.3 349.7 454.7 350 453.1 354.9C451.6 359.8 453.7 358 451.6 362.7C449.5 367.3 451.6 365.2 446.9 368.8C442.3 372.5 443.3 371.4 437.7 373.5C432 375.6 434.6 373.5 429.9 375C425.3 376.6 429.9 377.1 423.7 378.1C417.5 379.2 417 379.2 411.3 378.1C405.6 377.1 408.7 378.1 406.7 375C404.6 371.9 407.2 372.5 405.1 368.8C403.1 365.2 402.8 367.3 400.5 364.2C398.2 361.1 397.6 363.2 398.2 359.6Z"/>
<path fill="#00f0ff" d="M451.6 356.5C453.7 351.3 452.1 354.7 457.8 353.4C463.5 352.1 461.9 353.4 468.6 352.6C475.3 351.8 474.6 349.2 477.9 351C481.3 352.8 478.7 352.6 478.7 358C478.7 363.4 479.2 362.7 477.9 367.3C476.6 371.9 476.9 368.3 474.8 371.9C472.8 375.6 473.5 378.7 471.7 378.1C469.9 377.6 472 373.5 469.4 370.4C466.8 367.3 467.9 369.1 464 368.8C460.1 368.6 461.9 369.6 457.8 369.6C453.7 369.6 453.7 373.2 451.6 368.8C449.5 364.5 449.5 361.6 451.6 356.5Z"/>
<path fill="#00f0ff" d="M487.2 365.8C489.3 361.1 488.8 362.7 491.9 358C495 353.4 492.9 354.1 496.5 351.8C500.1 349.5 498.6 350 502.7 351C506.8 352.1 504.8 354.7 508.9 354.9C513 355.2 511.5 351.3 515.1 351.8C518.7 352.3 516.4 353.9 519.7 356.5C523 359 523 361.1 525 359.6C527 358 523.5 354.9 525.8 351.8C528.2 348.7 527.4 349.5 532 350.3C536.7 351 534.1 353.6 539.8 354.1C545.5 354.7 543.4 353.9 549.1 351.8C554.7 349.7 551.1 349.5 556.8 347.9C562.5 346.4 560.9 346.1 566.1 347.2C571.3 348.2 567.1 349.7 572.3 351C577.5 352.3 575.9 351.3 581.6 351C587.3 350.8 583.7 349.5 589.3 350.3C595 351 592.9 353.4 598.6 353.4C604.3 353.4 600.7 351.6 606.4 350.3C612.1 349 611 349 615.7 349.5C620.3 350 618.2 349 620.3 351.8C622.4 354.7 619.8 354.1 621.9 358C623.9 361.9 623.9 359.8 626.5 363.4C629.1 367 629.6 365 629.6 368.8C629.6 372.7 631.7 371.9 626.5 375C621.3 378.1 630.6 377.1 614.1 378.1C597.6 379.2 599.7 378.1 576.9 378.1C554.2 378.1 566.6 378.1 546 378.1C525.3 378.1 527.4 378.1 515 378.1C502.6 378.1 516.1 378.1 508.9 378.1C501.7 378.1 501.2 380.2 493.4 378.1C485.7 376.1 487.7 376.1 485.7 371.9C483.6 367.8 485.1 370.4 487.2 365.8Z"/>
<path fill="#00f0ff" d="M385 376.5C391.5 374.2 436.5 377 450 377C463.5 377 505 376.5 520 376.5C535 376.5 587.5 377.1 600 377C612.5 376.9 639.5 376.1 645 376C650.5 375.9 654 373.6 655 376C656 378.4 682 397.6 655 400C628 402.4 412 402.4 385 400C358 397.6 378.5 378.8 385 376.5Z"/>
<path fill="#0032f0" d="M437.7 373.5C440.2 371.4 440.2 370.9 446.9 369.6C453.7 368.3 451.6 369.6 457.8 369.6C464 369.6 461.4 368.8 465.5 369.6C469.7 370.4 468.4 369.6 470.2 371.9C472 374.3 474.6 375 471 376.6C467.3 378.1 467.3 376.6 459.3 376.6C451.3 376.6 453.7 376.9 446.9 376.6C440.2 376.3 442.3 376.9 439.2 375.8C436.1 374.8 435.1 375.6 437.7 373.5Z"/>
<path fill="#0032f0" d="M474.8 371.9C476.9 370.1 477.9 372.5 484.1 371.2C490.3 369.9 487.2 369.8 493.4 368.1C499.6 366.4 497.5 366.9 502.7 366.1C507.9 365.2 503.7 364.3 508.9 365.4C514.1 366.6 512.8 367.5 518.2 369.6C523.6 371.8 523.5 371.2 525 371.9C526.5 372.7 521.4 372.7 522.7 371.9C524.1 371.2 523.8 369.9 528.9 369.6C534.1 369.4 534.4 369.4 538.2 371.2C542.1 373 542.1 373.2 540.6 375C539 376.9 539.5 376.3 533.6 376.6C527.6 376.9 529.9 376.1 522.7 375.8C515.5 375.6 521.8 375.6 512 375.8C502.2 376.1 504.8 376.3 493.4 376.6C482.1 376.9 484.1 378.1 477.9 376.6C471.7 375 472.8 373.8 474.8 371.9Z"/>
<path fill="#0000aa" d="M476.4 372.7C479.5 371.9 486.9 371.4 493.4 371.2C499.9 371 505.2 371.1 508.9 371.6C512.6 372.2 515.1 373.2 512 373.8C508.9 374.4 500.2 374.5 493.4 374.7C486.6 375 481.3 375.4 477.9 375C474.5 374.6 473.3 373.5 476.4 372.7Z"/>
<path fill="#0000aa" d="M440.8 373.5C442.5 372.8 445.7 372.1 450 371.9C454.4 371.8 459.8 372.1 462.4 372.7C465.1 373.3 465.7 374.5 463.2 375C460.7 375.6 454.4 375.3 450 375.4C445.7 375.4 443.4 375.7 441.5 375.4C439.7 375 439 374.2 440.8 373.5Z"/>
<path fill="#0032f0" d="M550.6 365.8C551.9 362.1 550.6 363.9 555.3 361.1C559.9 358.3 558.4 358.3 564.6 357.2C570.8 356.2 568.9 356.7 573.8 358C578.8 359.3 577.7 359 579.3 361.1C580.8 363.2 579.8 362.8 578.5 364.2C577.2 365.6 578.5 364.2 575.4 365.4C572.3 366.7 573.3 365.9 569.2 368.1C565.1 370.2 567.1 369.2 563 371.9C558.9 374.7 560.2 375 556.8 376.3C553.5 377.6 554.7 377.3 552.9 375.8C551.1 374.4 552.2 375.3 551.4 371.9C550.6 368.6 549.3 369.4 550.6 365.8Z"/>
<path fill="#0000aa" d="M555.6 369.6C557.2 367.8 559.7 366.9 561.5 366.5C563.2 366.2 562.5 366.7 560.8 368.5C559.2 370.3 558.3 371.6 556.5 371.9C554.7 372.3 553.9 371.4 555.6 369.6Z"/>
<path fill="#0032f0" d="M571.5 371.9C571.5 369.4 573.1 369.6 576.9 367.3C580.8 365 576.9 365.5 583.1 365C589.3 364.5 587.3 365.8 595.5 365.8C603.8 365.8 599.7 365.5 607.9 365C616.2 364.5 614.1 364.7 620.3 364.2C626.5 363.7 623.4 361.9 626.5 363.4C629.6 365 629.6 365.5 629.6 368.8C629.6 372.2 631.7 371.4 626.5 373.5C621.3 375.6 622.4 374.5 614.1 375C605.9 375.6 610 374.8 601.7 375C593.5 375.3 597.6 375.8 589.3 375.8C581.1 375.8 582.9 376.3 576.9 375C571 373.8 571.5 374.5 571.5 371.9Z"/>
<path fill="#0000aa" d="M577.7 369.6C578.2 367.6 576.7 367.6 581.6 366.5C586.5 365.5 588 365.2 592.4 366.5C596.8 367.8 595.3 368.1 594.8 370.4C594.2 372.7 595.8 372.7 590.9 373.5C586 374.3 584.4 374 580 372.7C575.7 371.4 577.2 371.7 577.7 369.6Z"/>
<path fill="#0000aa" d="M601 369.6C601.5 367.6 599.4 368.1 606.4 367.3C613.3 366.5 615.7 366 621.9 367.3C628.1 368.6 625.5 369.1 625 371.2C624.4 373.2 627 372.7 620.3 373.5C613.6 374.3 611.3 374.8 604.8 373.5C598.4 372.2 600.4 371.7 601 369.6Z"/>
<path fill="#00f0ff" d="M637.3 368.8C638.9 365.8 638.9 367 643.5 366.5C648.2 366 648.7 364.2 651.3 367.3C653.9 370.4 655.4 373 651.3 375.8C647.2 378.7 643.5 378.1 638.9 375.8C634.2 373.5 635.8 371.9 637.3 368.8Z"/>
<path fill="#0032f0" d="M641.2 369.6C641.7 368 642.5 367.6 643.2 368.8C644 370.1 644.1 371.8 643.5 373.5C643 375.1 642.5 375.1 641.7 373.8C640.9 372.5 640.7 371.3 641.2 369.6Z"/>
<path fill="#00ff50" d="M583.9 359.2C587 358.4 591.1 358.4 594 359.2C596.8 360.1 594.5 360.5 592.4 361.9C590.4 363.3 590.4 363.4 587.8 363.4C585.2 363.4 586 363.3 584.7 361.9C583.4 360.5 580.8 360.1 583.9 359.2Z"/>
<path fill="#00ff50" d="M251.9 375.8C253.9 369.6 254.8 376 257.3 376.6C259.8 377.2 259.7 376.5 261.2 378.1C262.6 379.8 260.7 381.1 262.7 382.8C264.8 384.4 266.5 384.5 268.9 384.3C271.4 384.1 269.6 382.4 272 382C274.5 381.6 274.5 382.6 278.2 382.8C281.9 383 282.3 384 286 382.8C289.7 381.5 288.9 380.2 292.2 378.1C295.5 376.1 295.1 375 298.4 375C301.7 375 301.3 375.7 304.6 378.1C307.9 380.6 307.9 381.9 310.8 384.3C313.6 386.8 314 383.3 315.4 387.4C316.8 391.6 333.4 396.6 316 400C298.6 403.4 267.1 406.4 250 400C232.9 393.6 249.9 382.1 251.9 375.8Z"/>
<path fill="#00f0ff" d="M255 389.3C258.1 388.9 264.3 389.9 264.3 390.8C264.3 391.8 258.1 392.6 255 392.1C251.9 391.6 251.9 389.7 255 389.3Z"/>
<path fill="#00ff50" d="M375.7 388.2C379.2 385.3 379.2 387.4 385 387.4C390.8 387.4 394.7 388.4 400.5 388.2C406.3 388 405.4 387.9 409.8 386.7C414.1 385.4 416.2 385 419.1 382.8C422 380.6 420 378.5 422.2 377.4C424.3 376.3 424.7 378 428.4 378.1C432 378.3 435.3 377.6 437.7 378.1C440 378.7 440.2 379.6 438.4 380.5C436.6 381.4 430.5 381.1 429.9 382C429.4 382.9 432.1 384.2 436.1 384.3C440.1 384.5 443.3 382.1 446.9 382.8C450.6 383.5 448 386.2 451.6 387.4C455.2 388.7 457 388.2 462.4 388.2C467.9 388.2 469.4 387.8 474.8 387.4C480.2 387.1 481.3 386.5 485.7 386.7C490 386.8 488 387.7 493.4 388.2C498.8 388.8 501.5 389 508.9 389C516.3 389 520 388.4 525 388.2C530 388 527 388.4 530.5 388.2C533.9 388 536.2 388.5 539.8 387.4C543.4 386.3 543.4 383.9 546 383.6C548.5 383.2 548.5 385.7 550.6 385.9C552.8 386.1 553.8 386 555.3 384.3C556.7 382.7 555.4 380.7 556.8 378.9C558.3 377.1 556.8 376.8 561.5 376.6C566.2 376.4 572.8 376.5 576.9 378.1C581.1 379.8 580 381.6 579.3 383.6C578.5 385.5 572.6 385.8 573.8 386.7C575.1 387.6 578.2 387.3 584.7 387.4C591.2 387.6 594.9 387.6 601.7 387.4C608.6 387.3 610.5 387.7 614.1 386.7C617.7 385.6 614.3 384.8 617.2 382.8C620.1 380.8 621.4 378.9 626.5 378.1C631.6 377.4 633.1 380.1 638.9 379.7C644.7 379.3 647.5 371.9 651.3 376.6C655 381.3 720.6 394.5 655 400C589.4 405.5 435.2 402.8 370 400C304.8 397.2 372.2 391.1 375.7 388.2Z"/>
<path fill="#00ff50" d="M595.5 378.1C597.9 377.1 600.7 376.9 603.3 377.4C605.9 377.9 605.6 378.7 603.3 379.7C601 380.7 598.9 381 596.3 380.5C593.7 379.9 593.2 379.2 595.5 378.1Z"/>
<path fill="#00f0ff" d="M623.4 383.6C626 382.5 629.6 382 632.7 382.8C635.8 383.6 635.3 384.9 632.7 385.9C630.1 386.9 628.1 386.7 625 385.9C621.9 385.1 620.8 384.6 623.4 383.6Z"/>
<path fill="#00f0ff" d="M640.4 389C644.1 387.9 647.7 387.9 651.3 389C654.9 390 654.9 391 651.3 392.1C647.7 393.1 644.1 393.1 640.4 392.1C636.8 391 636.8 390 640.4 389Z"/>
<path fill="#00ff50" d="M371.2 385.9C373.7 385.6 376.8 386.4 378.9 387.4C381 388.5 379.9 388.7 377.3 389C374.8 389.2 373.2 389.2 371.2 388.2C369.1 387.2 368.6 386.1 371.2 385.9Z"/>
<path fill="#00ff50" d="M361.2 384.3C361.8 383.1 362.5 383 363.4 384C364.3 385.1 364.4 386.2 363.9 387.4C363.4 388.7 362.7 388.8 361.9 387.7C361 386.7 360.7 385.6 361.2 384.3Z"/>
<path fill="#00ff50" d="M314.6 379.4C315.2 378.8 316.1 379 316.9 379.7C317.8 380.4 317.9 380.9 317.3 381.5C316.6 382.2 316 382.3 315.1 381.5C314.2 380.8 314 380 314.6 379.4Z"/>
<path fill="#0032f0" d="M455.5 348.7C454.2 350.5 454.5 350.3 453.1 354.9C451.7 359.6 452.1 357.8 451.3 362.7C450.5 367.6 450.4 367.3 450.8 369.6C451.3 371.9 451.8 371.9 452.7 369.6C453.6 367.3 452.7 367.3 453.5 362.7C454.2 358 453.9 360.1 455 355.7C456.1 351.3 456.7 351.8 456.9 349.5C457 347.2 456.7 346.9 455.5 348.7Z"/>
<path fill="#0000aa" d="M253.5 361.9C256 360.6 257.6 361.2 261.2 361.9C264.8 362.6 264.3 362.5 264.3 363.9C264.3 365.3 264.8 365.4 261.2 366.1C257.6 366.7 256 367.1 253.5 365.8C250.9 364.4 250.9 363.2 253.5 361.9Z"/>
<path fill="#0032f0" d="M383.5 378.1C386 376.9 387.6 377.6 391.2 378.1C394.8 378.7 394.3 378.1 394.3 379.7C394.3 381.2 394.8 382 391.2 382.8C387.6 383.6 386 383.6 383.5 382C380.9 380.5 380.9 379.4 383.5 378.1Z"/>
<path fill="#0032f0" d="M370 368.7C372.6 366.5 370 366.9 378.9 366.5C387.7 366.1 387.7 365.8 396.6 367.6C405.4 369.5 401 368.7 405.4 372C409.9 375.4 411.3 375 409.9 377.6C408.4 380.1 408.4 378.7 401 379.8C393.6 380.9 395.9 381.6 387.7 380.9C379.6 380.1 382.2 380.1 376.7 377.6C371.2 375 373.4 376.1 371.2 373.1C368.9 370.2 367.5 370.9 370 368.7Z"/>
<path fill="#0000aa" d="M375.6 369.8C379.3 368.1 380 368.2 387.7 368.1C395.5 367.9 394.7 367.7 398.8 369.4C402.9 371.1 403.6 371.5 399.9 373.1C396.2 374.8 395.5 374.2 387.7 374.2C380 374.2 380.7 374.6 376.7 373.1C372.6 371.7 371.9 371.5 375.6 369.8Z"/>
<path fill="#00f0ff" d="M268.3 375.4C266.4 370.6 268.6 370.2 271.6 363.2C274.5 356.2 273.4 358 277.1 354.3C280.8 350.6 279.7 350.6 282.7 352.1C285.6 353.6 285.2 351.4 286 358.8C286.7 366.1 287.8 368 284.9 374.2C281.9 380.5 282.7 377.2 277.1 377.6C271.6 377.9 270.1 380.1 268.3 375.4Z"/>
<path fill="#0032f0" d="M279.8 365.4C280.1 362.1 280.8 361 282 363.2C283.2 365.4 283.6 368.7 283.3 372C283 375.4 282.3 375.4 281.1 373.1C279.9 370.9 279.5 368.7 279.8 365.4Z"/></g>
<g fill="#000" shape-rendering="crispEdges">
<rect x="271.0" y="387.0" width="1" height="4"/>
<rect x="271.0" y="132.0" width="1" height="4"/>
<rect x="286.0" y="387.0" width="1" height="4"/>
<rect x="286.0" y="132.0" width="1" height="4"/>
<rect x="301.0" y="387.0" width="1" height="4"/>
<rect x="301.0" y="132.0" width="1" height="4"/>
<rect x="317.0" y="387.0" width="1" height="4"/>
<rect x="317.0" y="132.0" width="1" height="4"/>
<rect x="332.0" y="382.0" width="2" height="9"/>
<rect x="332.0" y="132.0" width="2" height="9"/>
<rect x="347.0" y="387.0" width="1" height="4"/>
<rect x="347.0" y="132.0" width="1" height="4"/>
<rect x="363.0" y="387.0" width="1" height="4"/>
<rect x="363.0" y="132.0" width="1" height="4"/>
<rect x="378.0" y="387.0" width="1" height="4"/>
<rect x="378.0" y="132.0" width="1" height="4"/>
<rect x="393.0" y="387.0" width="1" height="4"/>
<rect x="393.0" y="132.0" width="1" height="4"/>
<rect x="408.0" y="382.0" width="2" height="9"/>
<rect x="408.0" y="132.0" width="2" height="9"/>
<rect x="424.0" y="387.0" width="1" height="4"/>
<rect x="424.0" y="132.0" width="1" height="4"/>
<rect x="439.0" y="387.0" width="1" height="4"/>
<rect x="439.0" y="132.0" width="1" height="4"/>
<rect x="455.0" y="387.0" width="1" height="4"/>
<rect x="455.0" y="132.0" width="1" height="4"/>
<rect x="470.0" y="387.0" width="1" height="4"/>
<rect x="470.0" y="132.0" width="1" height="4"/>
<rect x="485.0" y="382.0" width="2" height="9"/>
<rect x="485.0" y="132.0" width="2" height="9"/>
<rect x="501.0" y="387.0" width="1" height="4"/>
<rect x="501.0" y="132.0" width="1" height="4"/>
<rect x="516.0" y="387.0" width="1" height="4"/>
<rect x="516.0" y="132.0" width="1" height="4"/>
<rect x="531.0" y="387.0" width="1" height="4"/>
<rect x="531.0" y="132.0" width="1" height="4"/>
<rect x="546.0" y="387.0" width="1" height="4"/>
<rect x="546.0" y="132.0" width="1" height="4"/>
<rect x="561.0" y="382.0" width="2" height="9"/>
<rect x="561.0" y="132.0" width="2" height="9"/>
<rect x="577.0" y="387.0" width="1" height="4"/>
<rect x="577.0" y="132.0" width="1" height="4"/>
<rect x="592.0" y="387.0" width="1" height="4"/>
<rect x="592.0" y="132.0" width="1" height="4"/>
<rect x="608.0" y="387.0" width="1" height="4"/>
<rect x="608.0" y="132.0" width="1" height="4"/>
<rect x="623.0" y="387.0" width="1" height="4"/>
<rect x="623.0" y="132.0" width="1" height="4"/>
<rect x="638.0" y="382.0" width="2" height="9"/>
<rect x="638.0" y="132.0" width="2" height="9"/>
<rect x="257.0" y="376.0" width="4" height="1"/>
<rect x="643.0" y="376.0" width="4" height="1"/>
<rect x="257.0" y="358.0" width="4" height="1"/>
<rect x="643.0" y="358.0" width="4" height="1"/>
<rect x="257.0" y="341.0" width="4" height="1"/>
<rect x="643.0" y="341.0" width="4" height="1"/>
<rect x="257.0" y="323.0" width="4" height="1"/>
<rect x="643.0" y="323.0" width="4" height="1"/>
<rect x="257.0" y="305.0" width="9" height="2"/>
<rect x="638.0" y="305.0" width="9" height="2"/>
<rect x="257.0" y="288.0" width="4" height="1"/>
<rect x="643.0" y="288.0" width="4" height="1"/>
<rect x="257.0" y="270.0" width="4" height="1"/>
<rect x="643.0" y="270.0" width="4" height="1"/>
<rect x="257.0" y="253.0" width="4" height="1"/>
<rect x="643.0" y="253.0" width="4" height="1"/>
<rect x="257.0" y="235.0" width="4" height="1"/>
<rect x="643.0" y="235.0" width="4" height="1"/>
<rect x="257.0" y="217.0" width="9" height="2"/>
<rect x="638.0" y="217.0" width="9" height="2"/>
<rect x="257.0" y="200.0" width="4" height="1"/>
<rect x="643.0" y="200.0" width="4" height="1"/>
<rect x="257.0" y="182.0" width="4" height="1"/>
<rect x="643.0" y="182.0" width="4" height="1"/>
<rect x="257.0" y="165.0" width="4" height="1"/>
<rect x="643.0" y="165.0" width="4" height="1"/>
<rect x="257.0" y="147.0" width="4" height="1"/>
<rect x="643.0" y="147.0" width="4" height="1"/>
</g>
<rect x="256" y="131" width="392" height="261" fill="none" stroke="#000" stroke-width="2" shape-rendering="crispEdges"/>
<g shape-rendering="crispEdges">
<rect x="664" y="367.5" width="13" height="25.0" fill="#f000a0"/>
<rect x="664" y="350.0" width="13" height="17.5" fill="#b400aa"/>
<rect x="664" y="333.0" width="13" height="17.0" fill="#6400aa"/>
<rect x="664" y="316.0" width="13" height="17.0" fill="#0000aa"/>
<rect x="664" y="308.0" width="13" height="8.0" fill="#0032f0"/>
<rect x="664" y="299.5" width="13" height="8.5" fill="#00f0ff"/>
<rect x="664" y="291.0" width="13" height="8.5" fill="#00ff50"/>
<rect x="664" y="282.5" width="13" height="8.5" fill="#f0ff00"/>
<rect x="664" y="274.0" width="13" height="8.5" fill="#ffcd00"/>
<rect x="664" y="266.0" width="13" height="8.0" fill="#ff9b00"/>
<rect x="664" y="248.7" width="13" height="17.3" fill="#ff6400"/>
<rect x="664" y="231.7" width="13" height="17.0" fill="#ff1414"/>
<rect x="664" y="214.3" width="13" height="17.4" fill="#ff7878"/>
<rect x="664" y="196.0" width="13" height="18.3" fill="#ffbebe"/>
<rect x="664" y="366.7" width="13" height="1.6" fill="#000"/>
<rect x="664" y="349.2" width="13" height="1.6" fill="#000"/>
<rect x="664" y="332.2" width="13" height="1.6" fill="#000"/>
<rect x="664" y="315.2" width="13" height="1.6" fill="#000"/>
<rect x="664" y="307.2" width="13" height="1.6" fill="#000"/>
<rect x="664" y="298.7" width="13" height="1.6" fill="#000"/>
<rect x="664" y="290.2" width="13" height="1.6" fill="#000"/>
<rect x="664" y="281.7" width="13" height="1.6" fill="#000"/>
<rect x="664" y="273.2" width="13" height="1.6" fill="#000"/>
<rect x="664" y="265.2" width="13" height="1.6" fill="#000"/>
<rect x="664" y="247.9" width="13" height="1.6" fill="#000"/>
<rect x="664" y="230.9" width="13" height="1.6" fill="#000"/>
<rect x="664" y="213.5" width="13" height="1.6" fill="#000"/>
</g>
<rect x="664" y="196" width="13" height="196" fill="none" stroke="#000" stroke-width="2" shape-rendering="crispEdges"/>
<path d="M664 196 L671.2 169.8 L677 196 Z" fill="#ffd2d2" stroke="#000" stroke-width="2" stroke-linejoin="miter" stroke-miterlimit="10"/>
<text class="thin" y="85.0" font-size="29"><tspan x="175.8" textLength="169.2" lengthAdjust="spacingAndGlyphs">disturbunce</tspan> <tspan x="362.3" textLength="29.2" lengthAdjust="spacingAndGlyphs">of</tspan> <tspan x="406.6" textLength="133.2" lengthAdjust="spacingAndGlyphs">potential</tspan> <tspan x="551.8" textLength="178.5" lengthAdjust="spacingAndGlyphs">temperature</tspan></text>
<text class="bold" y="108.3" font-size="16" letter-spacing="1.2"><tspan x="164.2" textLength="54.7" lengthAdjust="spacingAndGlyphs">(×1E4</tspan> <tspan x="228.3" textLength="23.8" lengthAdjust="spacingAndGlyphs">m)</tspan></text>
<text class="thin2" y="142.8" font-size="16.3"><tspan x="655.2" textLength="20.2" lengthAdjust="spacingAndGlyphs">t=</tspan><tspan x="676.5" textLength="63.3" lengthAdjust="spacingAndGlyphs">180000</tspan> <tspan x="748.1" textLength="8.9" lengthAdjust="spacingAndGlyphs">s</tspan></text>
<text class="bold" x="234.3" y="224.0" font-size="18.2" textLength="11.8" lengthAdjust="spacingAndGlyphs">2</text>
<text class="bold" x="234.5" y="311.6" font-size="18.2" textLength="11.8" lengthAdjust="spacingAndGlyphs">1</text>
<text class="bold" x="325.6" y="414.5" font-size="18.2" textLength="11.8" lengthAdjust="spacingAndGlyphs">1</text>
<text class="bold" x="403.4" y="414.5" font-size="18.2" textLength="11.8" lengthAdjust="spacingAndGlyphs">2</text>
<text class="bold" x="480.3" y="414.5" font-size="18.2" textLength="11.8" lengthAdjust="spacingAndGlyphs">3</text>
<text class="bold" x="556.8" y="414.5" font-size="18.2" textLength="11.8" lengthAdjust="spacingAndGlyphs">4</text>
<text class="bold" x="633.7" y="414.5" font-size="18.2" textLength="11.8" lengthAdjust="spacingAndGlyphs">5</text>
<text class="bold" y="437.4" font-size="16" letter-spacing="1.2"><tspan x="566.2" textLength="49.9" lengthAdjust="spacingAndGlyphs">(×1E5</tspan> <tspan x="628.3" textLength="27.7" lengthAdjust="spacingAndGlyphs">m)</tspan></text>
<text class="thin" y="0" font-size="23.8" transform="translate(373.5 468.6)"><tspan x="-0.8" textLength="14.0" lengthAdjust="spacingAndGlyphs">X</tspan><tspan x="12.2" textLength="23.1" lengthAdjust="spacingAndGlyphs">-</tspan><tspan x="34.1" textLength="124.1" lengthAdjust="spacingAndGlyphs">coordinate</tspan></text>
<text class="thin" y="0" font-size="23.8" transform="translate(217.6 339.5) rotate(-90)"><tspan x="-0.8" textLength="14.0" lengthAdjust="spacingAndGlyphs">Z</tspan><tspan x="12.2" textLength="23.1" lengthAdjust="spacingAndGlyphs">-</tspan><tspan x="34.1" textLength="124.1" lengthAdjust="spacingAndGlyphs">coordinate</tspan></text>
<text class="bold" x="686.6" y="237.2" font-size="18.2" textLength="11.8" lengthAdjust="spacingAndGlyphs">7</text>
<text class="bold" x="686.6" y="279.6" font-size="18.2" textLength="11.8" lengthAdjust="spacingAndGlyphs">2</text>
<text class="bold" y="304.8" font-size="18.2"><tspan x="685.0" textLength="14.2" lengthAdjust="spacingAndGlyphs">-</tspan><tspan x="698.6" textLength="11.8" lengthAdjust="spacingAndGlyphs">1</tspan></text>
<text class="bold" y="338.8" font-size="18.2"><tspan x="685.0" textLength="14.2" lengthAdjust="spacingAndGlyphs">-</tspan><tspan x="698.6" textLength="11.8" lengthAdjust="spacingAndGlyphs">5</tspan></text>
<text class="bold" y="398.0" font-size="18.2"><tspan x="685.0" textLength="14.2" lengthAdjust="spacingAndGlyphs">-</tspan><tspan x="698.6" textLength="22.5" lengthAdjust="spacingAndGlyphs">12</tspan></text>
</svg>
</body>
</html>
